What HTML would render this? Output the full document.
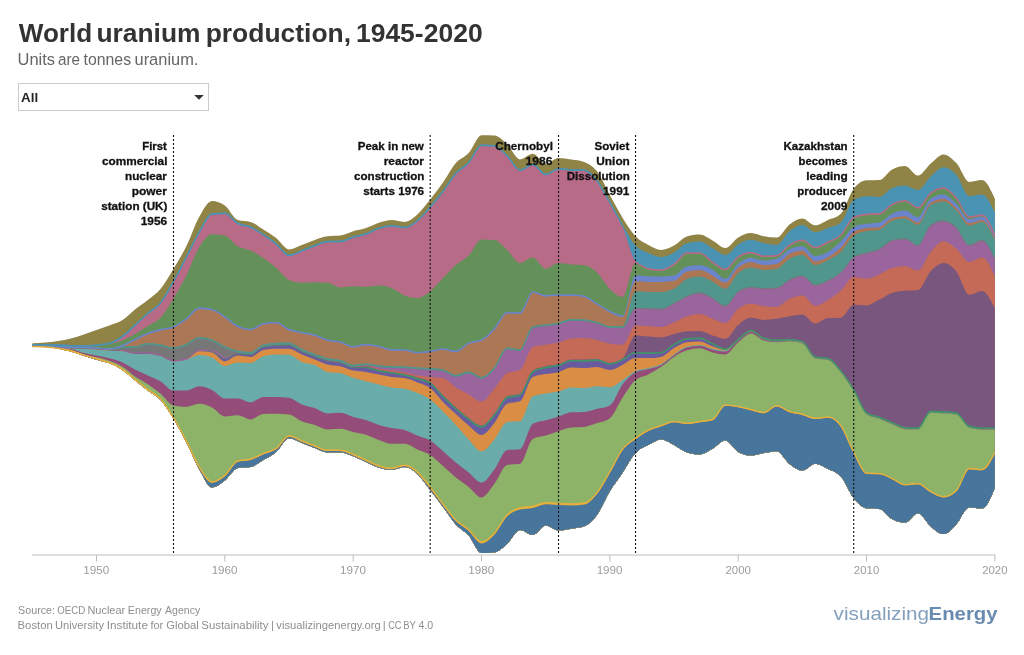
<!DOCTYPE html>
<html><head><meta charset="utf-8"><title>World uranium production, 1945-2020</title>
<style>
html,body{margin:0;padding:0;background:#fff;}
body{width:1024px;height:655px;overflow:hidden;font-family:"Liberation Sans",sans-serif;}
svg{display:block;}
</style></head><body>
<svg width="1024" height="655" viewBox="0 0 1024 655" font-family="'Liberation Sans', sans-serif">
<rect width="1024" height="655" fill="#fff"/>
<clipPath id="sc"><rect x="32.13" y="120" width="962.95" height="440"/></clipPath>
<g clip-path="url(#sc)">
<path d="M32.33,343.20C36.61,343.08,40.89,342.97,45.16,342.60C49.44,342.23,53.72,341.68,58.00,341.00C62.28,340.32,66.55,339.58,70.83,338.50C75.11,337.42,79.39,335.92,83.67,334.50C87.94,333.08,92.22,331.50,96.50,330.00C100.78,328.50,105.06,327.12,109.33,325.50C113.61,323.88,117.89,322.97,122.17,320.30C126.45,317.63,130.72,312.88,135.00,309.50C139.28,306.12,143.56,303.45,147.84,300.00C152.11,296.55,156.39,294.00,160.67,288.80C164.95,283.60,169.23,275.88,173.50,268.80C177.78,261.72,182.06,254.93,186.34,246.30C190.62,237.67,194.89,224.55,199.17,217.00C203.45,209.45,207.73,201.00,212.01,201.00C216.28,201.00,220.56,202.53,224.84,205.60C229.12,208.67,233.40,218.73,237.67,220.00C241.95,221.27,246.23,220.63,250.51,221.90C254.79,223.17,259.06,226.70,263.34,229.40C267.62,232.10,271.90,234.77,276.18,238.10C280.45,241.43,284.73,249.40,289.01,249.40C293.29,249.40,297.57,246.57,301.84,245.00C306.12,243.43,310.40,241.45,314.68,240.00C318.96,238.55,323.23,236.77,327.51,236.30C331.79,235.83,336.07,236.07,340.35,235.60C344.62,235.13,348.90,232.55,353.18,231.30C357.46,230.05,361.74,229.52,366.01,228.10C370.29,226.68,374.57,224.15,378.85,222.80C383.13,221.45,387.40,220.00,391.68,220.00C395.96,220.00,400.24,221.90,404.52,221.90C408.79,221.90,413.07,218.15,417.35,214.40C421.63,210.65,425.91,204.72,430.18,199.40C434.46,194.08,438.74,188.55,443.02,182.50C447.30,176.45,451.57,168.00,455.85,163.10C460.13,158.20,464.41,157.73,468.69,153.10C472.96,148.47,477.24,135.30,481.52,135.30C485.80,135.30,490.08,135.40,494.35,135.60C498.63,135.80,502.91,140.43,507.19,144.40C511.47,148.37,515.74,159.40,520.02,159.40C524.30,159.40,528.58,153.80,532.86,153.80C537.13,153.80,541.41,163.80,545.69,163.80C549.97,163.80,554.25,158.00,558.52,158.00C562.80,158.00,567.08,158.75,571.36,159.40C575.64,160.05,579.91,160.23,584.19,161.90C588.47,163.57,592.75,165.78,597.03,171.30C601.30,176.82,605.58,187.22,609.86,195.00C614.14,202.78,618.42,211.12,622.69,218.00C626.97,224.88,631.25,231.80,635.53,236.30C639.81,240.80,644.08,242.72,648.36,245.00C652.64,247.28,656.92,250.00,661.20,250.00C665.47,250.00,669.75,247.85,674.03,245.60C678.31,243.35,682.59,237.77,686.86,236.50C691.14,235.23,695.42,234.60,699.70,234.60C703.98,234.60,708.25,238.35,712.53,240.60C716.81,242.85,721.09,248.10,725.37,248.10C729.64,248.10,733.92,240.00,738.20,237.50C742.48,235.00,746.76,233.10,751.03,233.10C755.31,233.10,759.59,235.57,763.87,236.30C768.15,237.03,772.42,237.50,776.70,237.50C780.98,237.50,785.26,227.57,789.54,224.40C793.81,221.23,798.09,218.50,802.37,218.50C806.65,218.50,810.93,225.30,815.20,225.30C819.48,225.30,823.76,221.92,828.04,220.00C832.32,218.08,836.59,217.93,840.87,213.80C845.15,209.67,849.43,194.38,853.71,188.80C857.98,183.22,862.26,180.50,866.54,180.30C870.82,180.10,875.10,180.20,879.37,180.00C883.65,179.80,887.93,171.67,892.21,169.40C896.49,167.13,900.76,166.00,905.04,166.00C909.32,166.00,913.60,175.60,917.88,175.60C922.15,175.60,926.43,167.03,930.71,163.50C934.99,159.97,939.27,154.40,943.54,154.40C947.82,154.40,952.10,158.52,956.38,163.10C960.66,167.68,964.93,181.90,969.21,181.90C973.49,181.90,977.77,180.00,982.05,180.00C986.32,180.00,990.60,189.40,994.88,198.80L994.88,488.10C990.60,498.30,986.32,508.50,982.05,508.50C977.77,508.50,973.49,507.40,969.21,507.40C964.93,507.40,960.66,519.75,956.38,524.20C952.10,528.65,947.82,534.10,943.54,534.10C939.27,534.10,934.99,529.87,930.71,526.40C926.43,522.93,922.15,513.30,917.88,513.30C913.60,513.30,909.32,522.70,905.04,522.70C900.76,522.70,896.49,521.50,892.21,519.20C887.93,516.90,883.65,509.30,879.37,508.90C875.10,508.50,870.82,508.70,866.54,508.30C862.26,507.90,857.98,503.30,853.71,498.00C849.43,492.70,845.15,481.35,840.87,476.50C836.59,471.65,832.32,471.03,828.04,468.90C823.76,466.77,819.48,463.70,815.20,463.70C810.93,463.70,806.65,470.60,802.37,470.60C798.09,470.60,793.81,467.22,789.54,464.00C785.26,460.78,780.98,451.30,776.70,451.30C772.42,451.30,768.15,452.38,763.87,453.10C759.59,453.82,755.31,455.60,751.03,455.60C746.76,455.60,742.48,454.37,738.20,451.90C733.92,449.43,729.64,440.60,725.37,440.60C721.09,440.60,716.81,446.50,712.53,448.80C708.25,451.10,703.98,454.40,699.70,454.40C695.42,454.40,691.14,453.77,686.86,452.50C682.59,451.23,678.31,447.18,674.03,445.00C669.75,442.82,665.47,439.40,661.20,439.40C656.92,439.40,652.64,442.72,648.36,445.00C644.08,447.28,639.81,448.52,635.53,453.10C631.25,457.68,626.97,466.13,622.69,472.50C618.42,478.87,614.14,484.22,609.86,491.30C605.58,498.38,601.30,509.17,597.03,515.00C592.75,520.83,588.47,524.63,584.19,526.30C579.91,527.97,575.64,528.08,571.36,528.80C567.08,529.52,562.80,530.60,558.52,530.60C554.25,530.60,549.97,525.60,545.69,525.60C541.41,525.60,537.13,535.00,532.86,535.00C528.58,535.00,524.30,530.00,520.02,530.00C515.74,530.00,511.47,540.05,507.19,543.80C502.91,547.55,498.63,552.10,494.35,552.50C490.08,552.90,485.80,553.10,481.52,553.10C477.24,553.10,472.96,540.38,468.69,535.60C464.41,530.82,460.13,529.18,455.85,524.40C451.57,519.62,447.30,512.63,443.02,506.90C438.74,501.17,434.46,495.48,430.18,490.00C425.91,484.52,421.63,477.83,417.35,474.00C413.07,470.17,408.79,467.00,404.52,467.00C400.24,467.00,395.96,470.10,391.68,470.10C387.40,470.10,383.13,468.95,378.85,467.60C374.57,466.25,370.29,463.88,366.01,462.00C361.74,460.12,357.46,457.88,353.18,456.30C348.90,454.72,344.62,452.50,340.35,452.50C336.07,452.50,331.79,452.50,327.51,452.50C323.23,452.50,318.96,449.58,314.68,448.00C310.40,446.42,306.12,444.62,301.84,443.00C297.57,441.38,293.29,438.30,289.01,438.30C284.73,438.30,280.45,448.28,276.18,451.90C271.90,455.52,267.62,457.50,263.34,460.00C259.06,462.50,254.79,466.10,250.51,466.90C246.23,467.70,241.95,467.30,237.67,468.10C233.40,468.90,229.12,477.37,224.84,480.60C220.56,483.83,216.28,487.50,212.01,487.50C207.73,487.50,203.45,476.55,199.17,469.00C194.89,461.45,190.62,450.57,186.34,442.20C182.06,433.83,177.78,425.83,173.50,418.80C169.23,411.77,164.95,404.70,160.67,400.00C156.39,395.30,152.11,393.88,147.84,390.60C143.56,387.32,139.28,383.77,135.00,380.30C130.72,376.83,126.45,372.63,122.17,369.80C117.89,366.97,113.61,364.98,109.33,363.30C105.06,361.62,100.78,360.95,96.50,359.70C92.22,358.45,87.94,357.15,83.67,355.80C79.39,354.45,75.11,352.82,70.83,351.60C66.55,350.38,62.28,349.27,58.00,348.50C53.72,347.73,49.44,347.33,45.16,347.00C40.89,346.67,36.61,346.58,32.33,346.50Z" fill="#8f8346"/>
<path d="M32.33,344.20C36.61,344.10,40.89,344.00,45.16,344.00C49.44,344.00,53.72,344.07,58.00,344.20C62.28,344.33,66.55,344.87,70.83,345.00C75.11,345.13,79.39,345.20,83.67,345.20C87.94,345.20,92.22,344.83,96.50,344.40C100.78,343.97,105.06,343.80,109.33,342.60C113.61,341.40,117.89,338.93,122.17,335.90C126.45,332.87,130.72,328.25,135.00,324.40C139.28,320.55,143.56,316.55,147.84,312.80C152.11,309.05,156.39,307.25,160.67,301.90C164.95,296.55,169.23,288.30,173.50,280.70C177.78,273.10,182.06,264.52,186.34,256.30C190.62,248.08,194.89,238.58,199.17,231.40C203.45,224.22,207.73,213.67,212.01,213.20C216.28,212.73,220.56,212.50,224.84,212.50C229.12,212.50,233.40,220.20,237.67,222.50C241.95,224.80,246.23,224.42,250.51,226.30C254.79,228.18,259.06,230.98,263.34,233.80C267.62,236.62,271.90,239.73,276.18,243.20C280.45,246.67,284.73,254.60,289.01,254.60C293.29,254.60,297.57,251.60,301.84,250.00C306.12,248.40,310.40,246.55,314.68,245.00C318.96,243.45,323.23,240.70,327.51,240.70C331.79,240.70,336.07,240.70,340.35,240.70C344.62,240.70,348.90,237.55,353.18,236.30C357.46,235.05,361.74,234.67,366.01,233.20C370.29,231.73,374.57,228.87,378.85,227.50C383.13,226.13,387.40,225.00,391.68,225.00C395.96,225.00,400.24,226.70,404.52,226.70C408.79,226.70,413.07,223.40,417.35,220.00C421.63,216.60,425.91,211.18,430.18,206.30C434.46,201.42,438.74,196.33,443.02,190.70C447.30,185.07,451.57,177.30,455.85,172.50C460.13,167.70,464.41,166.58,468.69,161.90C472.96,157.22,477.24,144.40,481.52,144.40C485.80,144.40,490.08,144.60,494.35,145.00C498.63,145.40,502.91,150.93,507.19,155.00C511.47,159.07,515.74,169.40,520.02,169.40C524.30,169.40,528.58,163.80,532.86,163.80C537.13,163.80,541.41,173.80,545.69,173.80C549.97,173.80,554.25,168.00,558.52,168.00C562.80,168.00,567.08,169.07,571.36,169.20C575.64,169.33,579.91,169.27,584.19,169.40C588.47,169.53,592.75,174.62,597.03,180.00C601.30,185.38,605.58,194.20,609.86,201.70C614.14,209.20,618.42,217.68,622.69,225.00C626.97,232.32,631.25,240.92,635.53,245.60C639.81,250.28,644.08,251.22,648.36,253.10C652.64,254.98,656.92,256.90,661.20,256.90C665.47,256.90,669.75,254.78,674.03,252.50C678.31,250.22,682.59,244.33,686.86,243.20C691.14,242.07,695.42,241.50,699.70,241.50C703.98,241.50,708.25,245.85,712.53,248.10C716.81,250.35,721.09,255.00,725.37,255.00C729.64,255.00,733.92,246.93,738.20,244.40C742.48,241.87,746.76,239.80,751.03,239.80C755.31,239.80,759.59,242.23,763.87,243.10C768.15,243.97,772.42,245.00,776.70,245.00C780.98,245.00,785.26,234.63,789.54,231.30C793.81,227.97,798.09,225.00,802.37,225.00C806.65,225.00,810.93,232.20,815.20,232.20C819.48,232.20,823.76,229.72,828.04,228.10C832.32,226.48,836.59,226.23,840.87,222.50C845.15,218.77,849.43,202.47,853.71,200.00C857.98,197.53,862.26,196.30,866.54,196.30C870.82,196.30,875.10,196.90,879.37,196.90C883.65,196.90,887.93,189.77,892.21,188.10C896.49,186.43,900.76,185.60,905.04,185.60C909.32,185.60,913.60,190.00,917.88,190.00C922.15,190.00,926.43,180.28,930.71,176.50C934.99,172.72,939.27,167.30,943.54,167.30C947.82,167.30,952.10,170.22,956.38,175.00C960.66,179.78,964.93,196.00,969.21,196.00C973.49,196.00,977.77,194.40,982.05,194.40C986.32,194.40,990.60,203.45,994.88,212.50L994.88,488.10C990.60,498.30,986.32,508.50,982.05,508.50C977.77,508.50,973.49,507.40,969.21,507.40C964.93,507.40,960.66,519.75,956.38,524.20C952.10,528.65,947.82,534.10,943.54,534.10C939.27,534.10,934.99,529.87,930.71,526.40C926.43,522.93,922.15,513.30,917.88,513.30C913.60,513.30,909.32,522.70,905.04,522.70C900.76,522.70,896.49,521.50,892.21,519.20C887.93,516.90,883.65,509.30,879.37,508.90C875.10,508.50,870.82,508.70,866.54,508.30C862.26,507.90,857.98,503.30,853.71,498.00C849.43,492.70,845.15,481.35,840.87,476.50C836.59,471.65,832.32,471.03,828.04,468.90C823.76,466.77,819.48,463.70,815.20,463.70C810.93,463.70,806.65,470.60,802.37,470.60C798.09,470.60,793.81,467.22,789.54,464.00C785.26,460.78,780.98,451.30,776.70,451.30C772.42,451.30,768.15,452.38,763.87,453.10C759.59,453.82,755.31,455.60,751.03,455.60C746.76,455.60,742.48,454.37,738.20,451.90C733.92,449.43,729.64,440.60,725.37,440.60C721.09,440.60,716.81,446.50,712.53,448.80C708.25,451.10,703.98,454.40,699.70,454.40C695.42,454.40,691.14,453.77,686.86,452.50C682.59,451.23,678.31,447.18,674.03,445.00C669.75,442.82,665.47,439.40,661.20,439.40C656.92,439.40,652.64,442.72,648.36,445.00C644.08,447.28,639.81,448.52,635.53,453.10C631.25,457.68,626.97,466.13,622.69,472.50C618.42,478.87,614.14,484.22,609.86,491.30C605.58,498.38,601.30,509.17,597.03,515.00C592.75,520.83,588.47,524.63,584.19,526.30C579.91,527.97,575.64,528.08,571.36,528.80C567.08,529.52,562.80,530.60,558.52,530.60C554.25,530.60,549.97,525.60,545.69,525.60C541.41,525.60,537.13,535.00,532.86,535.00C528.58,535.00,524.30,530.00,520.02,530.00C515.74,530.00,511.47,540.05,507.19,543.80C502.91,547.55,498.63,552.10,494.35,552.50C490.08,552.90,485.80,553.10,481.52,553.10C477.24,553.10,472.96,540.38,468.69,535.60C464.41,530.82,460.13,529.18,455.85,524.40C451.57,519.62,447.30,512.63,443.02,506.90C438.74,501.17,434.46,495.48,430.18,490.00C425.91,484.52,421.63,477.83,417.35,474.00C413.07,470.17,408.79,467.00,404.52,467.00C400.24,467.00,395.96,470.10,391.68,470.10C387.40,470.10,383.13,468.95,378.85,467.60C374.57,466.25,370.29,463.88,366.01,462.00C361.74,460.12,357.46,457.88,353.18,456.30C348.90,454.72,344.62,452.50,340.35,452.50C336.07,452.50,331.79,452.50,327.51,452.50C323.23,452.50,318.96,449.58,314.68,448.00C310.40,446.42,306.12,444.62,301.84,443.00C297.57,441.38,293.29,438.30,289.01,438.30C284.73,438.30,280.45,448.28,276.18,451.90C271.90,455.52,267.62,457.50,263.34,460.00C259.06,462.50,254.79,466.10,250.51,466.90C246.23,467.70,241.95,467.30,237.67,468.10C233.40,468.90,229.12,477.37,224.84,480.60C220.56,483.83,216.28,487.50,212.01,487.50C207.73,487.50,203.45,476.55,199.17,469.00C194.89,461.45,190.62,450.57,186.34,442.20C182.06,433.83,177.78,425.83,173.50,418.80C169.23,411.77,164.95,404.70,160.67,400.00C156.39,395.30,152.11,393.88,147.84,390.60C143.56,387.32,139.28,383.77,135.00,380.30C130.72,376.83,126.45,372.63,122.17,369.80C117.89,366.97,113.61,364.98,109.33,363.30C105.06,361.62,100.78,360.95,96.50,359.70C92.22,358.45,87.94,357.15,83.67,355.80C79.39,354.45,75.11,352.82,70.83,351.60C66.55,350.38,62.28,349.27,58.00,348.50C53.72,347.73,49.44,347.33,45.16,347.00C40.89,346.67,36.61,346.58,32.33,346.50Z" fill="#4a93b2"/>
<path d="M32.33,345.70C36.61,345.60,40.89,345.50,45.16,345.50C49.44,345.50,53.72,345.57,58.00,345.70C62.28,345.83,66.55,346.37,70.83,346.50C75.11,346.63,79.39,346.70,83.67,346.70C87.94,346.70,92.22,346.33,96.50,345.90C100.78,345.47,105.06,345.30,109.33,344.10C113.61,342.90,117.89,340.43,122.17,337.40C126.45,334.37,130.72,329.75,135.00,325.90C139.28,322.05,143.56,318.05,147.84,314.30C152.11,310.55,156.39,308.75,160.67,303.40C164.95,298.05,169.23,289.80,173.50,282.20C177.78,274.60,182.06,266.02,186.34,257.80C190.62,249.58,194.89,240.08,199.17,232.90C203.45,225.72,207.73,215.17,212.01,214.70C216.28,214.23,220.56,214.00,224.84,214.00C229.12,214.00,233.40,221.70,237.67,224.00C241.95,226.30,246.23,225.92,250.51,227.80C254.79,229.68,259.06,232.48,263.34,235.30C267.62,238.12,271.90,241.23,276.18,244.70C280.45,248.17,284.73,256.10,289.01,256.10C293.29,256.10,297.57,253.10,301.84,251.50C306.12,249.90,310.40,248.05,314.68,246.50C318.96,244.95,323.23,242.20,327.51,242.20C331.79,242.20,336.07,242.20,340.35,242.20C344.62,242.20,348.90,239.05,353.18,237.80C357.46,236.55,361.74,236.17,366.01,234.70C370.29,233.23,374.57,230.37,378.85,229.00C383.13,227.63,387.40,226.50,391.68,226.50C395.96,226.50,400.24,228.20,404.52,228.20C408.79,228.20,413.07,224.90,417.35,221.50C421.63,218.10,425.91,212.68,430.18,207.80C434.46,202.92,438.74,197.83,443.02,192.20C447.30,186.57,451.57,178.80,455.85,174.00C460.13,169.20,464.41,168.08,468.69,163.40C472.96,158.72,477.24,145.90,481.52,145.90C485.80,145.90,490.08,146.10,494.35,146.50C498.63,146.90,502.91,152.43,507.19,156.50C511.47,160.57,515.74,170.90,520.02,170.90C524.30,170.90,528.58,165.30,532.86,165.30C537.13,165.30,541.41,175.30,545.69,175.30C549.97,175.30,554.25,169.50,558.52,169.50C562.80,169.50,567.08,170.57,571.36,170.70C575.64,170.83,579.91,170.77,584.19,170.90C588.47,171.03,592.75,176.12,597.03,181.50C601.30,186.88,605.58,195.63,609.86,203.20C614.14,210.77,618.42,217.22,622.69,226.90C626.97,236.58,631.25,256.77,635.53,261.30C639.81,265.83,644.08,267.23,648.36,268.10C652.64,268.97,656.92,269.40,661.20,269.40C665.47,269.40,669.75,266.63,674.03,263.80C678.31,260.97,682.59,252.40,686.86,252.40C691.14,252.40,695.42,252.40,699.70,252.40C703.98,252.40,708.25,258.77,712.53,261.50C716.81,264.23,721.09,268.80,725.37,268.80C729.64,268.80,733.92,259.12,738.20,256.30C742.48,253.48,746.76,251.90,751.03,251.90C755.31,251.90,759.59,255.60,763.87,255.60C768.15,255.60,772.42,255.40,776.70,255.00C780.98,254.60,785.26,246.97,789.54,244.40C793.81,241.83,798.09,239.60,802.37,239.60C806.65,239.60,810.93,246.90,815.20,246.90C819.48,246.90,823.76,243.58,828.04,241.50C832.32,239.42,836.59,238.50,840.87,234.40C845.15,230.30,849.43,218.97,853.71,216.90C857.98,214.83,862.26,214.27,866.54,213.80C870.82,213.33,875.10,213.57,879.37,213.10C883.65,212.63,887.93,205.95,892.21,203.80C896.49,201.65,900.76,200.20,905.04,200.20C909.32,200.20,913.60,207.10,917.88,207.10C922.15,207.10,926.43,195.77,930.71,192.50C934.99,189.23,939.27,187.50,943.54,187.50C947.82,187.50,952.10,192.70,956.38,197.50C960.66,202.30,964.93,216.30,969.21,216.30C973.49,216.30,977.77,214.50,982.05,214.50C986.32,214.50,990.60,224.75,994.88,235.00L994.88,488.10C990.60,498.30,986.32,508.50,982.05,508.50C977.77,508.50,973.49,507.40,969.21,507.40C964.93,507.40,960.66,519.75,956.38,524.20C952.10,528.65,947.82,534.10,943.54,534.10C939.27,534.10,934.99,529.87,930.71,526.40C926.43,522.93,922.15,513.30,917.88,513.30C913.60,513.30,909.32,522.70,905.04,522.70C900.76,522.70,896.49,521.50,892.21,519.20C887.93,516.90,883.65,509.30,879.37,508.90C875.10,508.50,870.82,508.70,866.54,508.30C862.26,507.90,857.98,503.30,853.71,498.00C849.43,492.70,845.15,481.35,840.87,476.50C836.59,471.65,832.32,471.03,828.04,468.90C823.76,466.77,819.48,463.70,815.20,463.70C810.93,463.70,806.65,470.60,802.37,470.60C798.09,470.60,793.81,467.22,789.54,464.00C785.26,460.78,780.98,451.30,776.70,451.30C772.42,451.30,768.15,452.38,763.87,453.10C759.59,453.82,755.31,455.60,751.03,455.60C746.76,455.60,742.48,454.37,738.20,451.90C733.92,449.43,729.64,440.60,725.37,440.60C721.09,440.60,716.81,446.50,712.53,448.80C708.25,451.10,703.98,454.40,699.70,454.40C695.42,454.40,691.14,453.77,686.86,452.50C682.59,451.23,678.31,447.18,674.03,445.00C669.75,442.82,665.47,439.40,661.20,439.40C656.92,439.40,652.64,442.72,648.36,445.00C644.08,447.28,639.81,448.52,635.53,453.10C631.25,457.68,626.97,466.13,622.69,472.50C618.42,478.87,614.14,484.22,609.86,491.30C605.58,498.38,601.30,509.17,597.03,515.00C592.75,520.83,588.47,524.63,584.19,526.30C579.91,527.97,575.64,528.08,571.36,528.80C567.08,529.52,562.80,530.60,558.52,530.60C554.25,530.60,549.97,525.60,545.69,525.60C541.41,525.60,537.13,535.00,532.86,535.00C528.58,535.00,524.30,530.00,520.02,530.00C515.74,530.00,511.47,540.05,507.19,543.80C502.91,547.55,498.63,552.10,494.35,552.50C490.08,552.90,485.80,553.10,481.52,553.10C477.24,553.10,472.96,540.38,468.69,535.60C464.41,530.82,460.13,529.18,455.85,524.40C451.57,519.62,447.30,512.63,443.02,506.90C438.74,501.17,434.46,495.48,430.18,490.00C425.91,484.52,421.63,477.83,417.35,474.00C413.07,470.17,408.79,467.00,404.52,467.00C400.24,467.00,395.96,470.10,391.68,470.10C387.40,470.10,383.13,468.95,378.85,467.60C374.57,466.25,370.29,463.88,366.01,462.00C361.74,460.12,357.46,457.88,353.18,456.30C348.90,454.72,344.62,452.50,340.35,452.50C336.07,452.50,331.79,452.50,327.51,452.50C323.23,452.50,318.96,449.58,314.68,448.00C310.40,446.42,306.12,444.62,301.84,443.00C297.57,441.38,293.29,438.30,289.01,438.30C284.73,438.30,280.45,448.28,276.18,451.90C271.90,455.52,267.62,457.50,263.34,460.00C259.06,462.50,254.79,466.10,250.51,466.90C246.23,467.70,241.95,467.30,237.67,468.10C233.40,468.90,229.12,477.37,224.84,480.60C220.56,483.83,216.28,487.50,212.01,487.50C207.73,487.50,203.45,476.55,199.17,469.00C194.89,461.45,190.62,450.57,186.34,442.20C182.06,433.83,177.78,425.83,173.50,418.80C169.23,411.77,164.95,404.70,160.67,400.00C156.39,395.30,152.11,393.88,147.84,390.60C143.56,387.32,139.28,383.77,135.00,380.30C130.72,376.83,126.45,372.63,122.17,369.80C117.89,366.97,113.61,364.98,109.33,363.30C105.06,361.62,100.78,360.95,96.50,359.70C92.22,358.45,87.94,357.15,83.67,355.80C79.39,354.45,75.11,352.82,70.83,351.60C66.55,350.38,62.28,349.27,58.00,348.50C53.72,347.73,49.44,347.33,45.16,347.00C40.89,346.67,36.61,346.58,32.33,346.50Z" fill="#b76b87"/>
<path d="M32.33,345.80C36.61,345.70,40.89,345.60,45.16,345.60C49.44,345.60,53.72,345.67,58.00,345.80C62.28,345.93,66.55,346.50,70.83,346.60C75.11,346.70,79.39,346.75,83.67,346.75C87.94,346.75,92.22,346.38,96.50,345.95C100.78,345.52,105.06,345.09,109.33,344.20C113.61,343.31,117.89,342.30,122.17,340.60C126.45,338.90,130.72,336.43,135.00,334.00C139.28,331.57,143.56,328.75,147.84,326.00C152.11,323.25,156.39,322.08,160.67,317.50C164.95,312.92,169.23,305.48,173.50,298.50C177.78,291.52,182.06,284.15,186.34,275.60C190.62,267.05,194.89,254.10,199.17,247.20C203.45,240.30,207.73,234.20,212.01,234.20C216.28,234.20,220.56,234.60,224.84,235.40C229.12,236.20,233.40,243.77,237.67,246.30C241.95,248.83,246.23,248.63,250.51,250.60C254.79,252.57,259.06,255.23,263.34,258.10C267.62,260.97,271.90,264.15,276.18,267.80C280.45,271.45,284.73,278.13,289.01,280.00C293.29,281.87,297.57,282.80,301.84,282.80C306.12,282.80,310.40,282.30,314.68,282.30C318.96,282.30,323.23,282.47,327.51,282.80C331.79,283.13,336.07,287.50,340.35,287.50C344.62,287.50,348.90,286.30,353.18,286.30C357.46,286.30,361.74,286.90,366.01,286.90C370.29,286.90,374.57,285.60,378.85,285.60C383.13,285.60,387.40,286.43,391.68,288.10C395.96,289.77,400.24,293.93,404.52,295.60C408.79,297.27,413.07,298.10,417.35,298.10C421.63,298.10,425.91,294.63,430.18,291.30C434.46,287.97,438.74,282.48,443.02,278.10C447.30,273.72,451.57,268.75,455.85,265.00C460.13,261.25,464.41,259.85,468.69,255.60C472.96,251.35,477.24,239.50,481.52,239.50C485.80,239.50,490.08,239.67,494.35,240.00C498.63,240.33,502.91,246.15,507.19,250.00C511.47,253.85,515.74,263.10,520.02,263.10C524.30,263.10,528.58,257.50,532.86,257.50C537.13,257.50,541.41,268.80,545.69,268.80C549.97,268.80,554.25,263.10,558.52,263.10C562.80,263.10,567.08,264.03,571.36,264.40C575.64,264.77,579.91,264.70,584.19,265.30C588.47,265.90,592.75,268.55,597.03,272.50C601.30,276.45,605.58,284.93,609.86,289.00C614.14,293.07,618.42,296.90,622.69,296.90C626.97,296.90,631.25,262.70,635.53,262.70C639.81,262.70,644.08,268.63,648.36,269.50C652.64,270.37,656.92,270.80,661.20,270.80C665.47,270.80,669.75,268.03,674.03,265.20C678.31,262.37,682.59,253.80,686.86,253.80C691.14,253.80,695.42,253.80,699.70,253.80C703.98,253.80,708.25,260.17,712.53,262.90C716.81,265.63,721.09,270.20,725.37,270.20C729.64,270.20,733.92,260.52,738.20,257.70C742.48,254.88,746.76,253.30,751.03,253.30C755.31,253.30,759.59,257.00,763.87,257.00C768.15,257.00,772.42,256.80,776.70,256.40C780.98,256.00,785.26,248.37,789.54,245.80C793.81,243.23,798.09,241.00,802.37,241.00C806.65,241.00,810.93,248.30,815.20,248.30C819.48,248.30,823.76,244.98,828.04,242.90C832.32,240.82,836.59,239.90,840.87,235.80C845.15,231.70,849.43,220.37,853.71,218.30C857.98,216.23,862.26,215.67,866.54,215.20C870.82,214.73,875.10,214.97,879.37,214.50C883.65,214.03,887.93,207.35,892.21,205.20C896.49,203.05,900.76,201.60,905.04,201.60C909.32,201.60,913.60,208.50,917.88,208.50C922.15,208.50,926.43,197.17,930.71,193.90C934.99,190.63,939.27,188.90,943.54,188.90C947.82,188.90,952.10,194.10,956.38,198.90C960.66,203.70,964.93,217.70,969.21,217.70C973.49,217.70,977.77,215.90,982.05,215.90C986.32,215.90,990.60,226.15,994.88,236.40L994.88,488.10C990.60,498.30,986.32,508.50,982.05,508.50C977.77,508.50,973.49,507.40,969.21,507.40C964.93,507.40,960.66,519.75,956.38,524.20C952.10,528.65,947.82,534.10,943.54,534.10C939.27,534.10,934.99,529.87,930.71,526.40C926.43,522.93,922.15,513.30,917.88,513.30C913.60,513.30,909.32,522.70,905.04,522.70C900.76,522.70,896.49,521.50,892.21,519.20C887.93,516.90,883.65,509.30,879.37,508.90C875.10,508.50,870.82,508.70,866.54,508.30C862.26,507.90,857.98,503.30,853.71,498.00C849.43,492.70,845.15,481.35,840.87,476.50C836.59,471.65,832.32,471.03,828.04,468.90C823.76,466.77,819.48,463.70,815.20,463.70C810.93,463.70,806.65,470.60,802.37,470.60C798.09,470.60,793.81,467.22,789.54,464.00C785.26,460.78,780.98,451.30,776.70,451.30C772.42,451.30,768.15,452.38,763.87,453.10C759.59,453.82,755.31,455.60,751.03,455.60C746.76,455.60,742.48,454.37,738.20,451.90C733.92,449.43,729.64,440.60,725.37,440.60C721.09,440.60,716.81,446.50,712.53,448.80C708.25,451.10,703.98,454.40,699.70,454.40C695.42,454.40,691.14,453.77,686.86,452.50C682.59,451.23,678.31,447.18,674.03,445.00C669.75,442.82,665.47,439.40,661.20,439.40C656.92,439.40,652.64,442.72,648.36,445.00C644.08,447.28,639.81,448.52,635.53,453.10C631.25,457.68,626.97,466.13,622.69,472.50C618.42,478.87,614.14,484.22,609.86,491.30C605.58,498.38,601.30,509.17,597.03,515.00C592.75,520.83,588.47,524.63,584.19,526.30C579.91,527.97,575.64,528.08,571.36,528.80C567.08,529.52,562.80,530.60,558.52,530.60C554.25,530.60,549.97,525.60,545.69,525.60C541.41,525.60,537.13,535.00,532.86,535.00C528.58,535.00,524.30,530.00,520.02,530.00C515.74,530.00,511.47,540.05,507.19,543.80C502.91,547.55,498.63,552.10,494.35,552.50C490.08,552.90,485.80,553.10,481.52,553.10C477.24,553.10,472.96,540.38,468.69,535.60C464.41,530.82,460.13,529.18,455.85,524.40C451.57,519.62,447.30,512.63,443.02,506.90C438.74,501.17,434.46,495.48,430.18,490.00C425.91,484.52,421.63,477.83,417.35,474.00C413.07,470.17,408.79,467.00,404.52,467.00C400.24,467.00,395.96,470.10,391.68,470.10C387.40,470.10,383.13,468.95,378.85,467.60C374.57,466.25,370.29,463.88,366.01,462.00C361.74,460.12,357.46,457.88,353.18,456.30C348.90,454.72,344.62,452.50,340.35,452.50C336.07,452.50,331.79,452.50,327.51,452.50C323.23,452.50,318.96,449.58,314.68,448.00C310.40,446.42,306.12,444.62,301.84,443.00C297.57,441.38,293.29,438.30,289.01,438.30C284.73,438.30,280.45,448.28,276.18,451.90C271.90,455.52,267.62,457.50,263.34,460.00C259.06,462.50,254.79,466.10,250.51,466.90C246.23,467.70,241.95,467.30,237.67,468.10C233.40,468.90,229.12,477.37,224.84,480.60C220.56,483.83,216.28,487.50,212.01,487.50C207.73,487.50,203.45,476.55,199.17,469.00C194.89,461.45,190.62,450.57,186.34,442.20C182.06,433.83,177.78,425.83,173.50,418.80C169.23,411.77,164.95,404.70,160.67,400.00C156.39,395.30,152.11,393.88,147.84,390.60C143.56,387.32,139.28,383.77,135.00,380.30C130.72,376.83,126.45,372.63,122.17,369.80C117.89,366.97,113.61,364.98,109.33,363.30C105.06,361.62,100.78,360.95,96.50,359.70C92.22,358.45,87.94,357.15,83.67,355.80C79.39,354.45,75.11,352.82,70.83,351.60C66.55,350.38,62.28,349.27,58.00,348.50C53.72,347.73,49.44,347.33,45.16,347.00C40.89,346.67,36.61,346.58,32.33,346.50Z" fill="#639159"/>
<path d="M32.33,346.10C36.61,346.00,40.89,345.90,45.16,345.90C49.44,345.90,53.72,345.98,58.00,346.10C62.28,346.23,66.55,346.52,70.83,346.65C75.11,346.78,79.39,346.76,83.67,346.90C87.94,347.04,92.22,347.25,96.50,347.50C100.78,347.75,105.06,348.40,109.33,348.40C113.61,348.40,117.89,346.68,122.17,345.10C126.45,343.52,130.72,340.93,135.00,338.90C139.28,336.87,143.56,334.53,147.84,332.90C152.11,331.27,156.39,330.18,160.67,329.10C164.95,328.02,169.23,328.20,173.50,326.40C177.78,324.60,182.06,321.43,186.34,318.30C190.62,315.17,194.89,307.60,199.17,307.60C203.45,307.60,207.73,308.03,212.01,308.90C216.28,309.77,220.56,313.58,224.84,316.40C229.12,319.22,233.40,323.73,237.67,325.80C241.95,327.87,246.23,328.90,250.51,328.90C254.79,328.90,259.06,324.17,263.34,323.30C267.62,322.43,271.90,322.00,276.18,322.00C280.45,322.00,284.73,327.23,289.01,328.90C293.29,330.57,297.57,331.07,301.84,332.00C306.12,332.93,310.40,333.25,314.68,334.50C318.96,335.75,323.23,338.35,327.51,339.50C331.79,340.65,336.07,340.30,340.35,341.40C344.62,342.50,348.90,346.10,353.18,346.10C357.46,346.10,361.74,343.90,366.01,343.90C370.29,343.90,374.57,344.90,378.85,345.80C383.13,346.70,387.40,349.17,391.68,349.30C395.96,349.43,400.24,349.37,404.52,349.50C408.79,349.63,413.07,352.00,417.35,352.00C421.63,352.00,425.91,351.38,430.18,350.80C434.46,350.22,438.74,348.50,443.02,348.50C447.30,348.50,451.57,350.80,455.85,350.80C460.13,350.80,464.41,344.48,468.69,342.60C472.96,340.72,477.24,341.57,481.52,339.50C485.80,337.43,490.08,332.88,494.35,328.30C498.63,323.72,502.91,312.00,507.19,312.00C511.47,312.00,515.74,312.60,520.02,312.60C524.30,312.60,528.58,291.40,532.86,291.40C537.13,291.40,541.41,295.10,545.69,295.10C549.97,295.10,554.25,294.50,558.52,294.50C562.80,294.50,567.08,294.50,571.36,294.50C575.64,294.50,579.91,294.93,584.19,295.80C588.47,296.67,592.75,300.77,597.03,303.30C601.30,305.83,605.58,308.92,609.86,311.00C614.14,313.08,618.42,315.80,622.69,315.80C626.97,315.80,631.25,275.30,635.53,275.30C639.81,275.30,644.08,276.10,648.36,276.30C652.64,276.50,656.92,276.60,661.20,276.60C665.47,276.60,669.75,276.27,674.03,275.60C678.31,274.93,682.59,267.30,686.86,266.50C691.14,265.70,695.42,265.30,699.70,265.30C703.98,265.30,708.25,267.45,712.53,269.70C716.81,271.95,721.09,278.80,725.37,278.80C729.64,278.80,733.92,267.30,738.20,263.80C742.48,260.30,746.76,257.80,751.03,257.80C755.31,257.80,759.59,260.60,763.87,260.60C768.15,260.60,772.42,260.00,776.70,258.80C780.98,257.60,785.26,251.47,789.54,249.40C793.81,247.33,798.09,246.30,802.37,246.30C806.65,246.30,810.93,256.00,815.20,256.00C819.48,256.00,823.76,254.32,828.04,251.90C832.32,249.48,836.59,245.67,840.87,241.50C845.15,237.33,849.43,228.97,853.71,226.90C857.98,224.83,862.26,224.53,866.54,223.80C870.82,223.07,875.10,223.37,879.37,222.50C883.65,221.63,887.93,215.78,892.21,213.80C896.49,211.82,900.76,210.60,905.04,210.60C909.32,210.60,913.60,217.20,917.88,217.20C922.15,217.20,926.43,201.73,930.71,198.80C934.99,195.87,939.27,194.40,943.54,194.40C947.82,194.40,952.10,199.65,956.38,203.80C960.66,207.95,964.93,219.30,969.21,219.30C973.49,219.30,977.77,216.80,982.05,216.80C986.32,216.80,990.60,226.62,994.88,236.45L994.88,488.10C990.60,498.30,986.32,508.50,982.05,508.50C977.77,508.50,973.49,507.40,969.21,507.40C964.93,507.40,960.66,519.75,956.38,524.20C952.10,528.65,947.82,534.10,943.54,534.10C939.27,534.10,934.99,529.87,930.71,526.40C926.43,522.93,922.15,513.30,917.88,513.30C913.60,513.30,909.32,522.70,905.04,522.70C900.76,522.70,896.49,521.50,892.21,519.20C887.93,516.90,883.65,509.30,879.37,508.90C875.10,508.50,870.82,508.70,866.54,508.30C862.26,507.90,857.98,503.30,853.71,498.00C849.43,492.70,845.15,481.35,840.87,476.50C836.59,471.65,832.32,471.03,828.04,468.90C823.76,466.77,819.48,463.70,815.20,463.70C810.93,463.70,806.65,470.60,802.37,470.60C798.09,470.60,793.81,467.22,789.54,464.00C785.26,460.78,780.98,451.30,776.70,451.30C772.42,451.30,768.15,452.38,763.87,453.10C759.59,453.82,755.31,455.60,751.03,455.60C746.76,455.60,742.48,454.37,738.20,451.90C733.92,449.43,729.64,440.60,725.37,440.60C721.09,440.60,716.81,446.50,712.53,448.80C708.25,451.10,703.98,454.40,699.70,454.40C695.42,454.40,691.14,453.77,686.86,452.50C682.59,451.23,678.31,447.18,674.03,445.00C669.75,442.82,665.47,439.40,661.20,439.40C656.92,439.40,652.64,442.72,648.36,445.00C644.08,447.28,639.81,448.52,635.53,453.10C631.25,457.68,626.97,466.13,622.69,472.50C618.42,478.87,614.14,484.22,609.86,491.30C605.58,498.38,601.30,509.17,597.03,515.00C592.75,520.83,588.47,524.63,584.19,526.30C579.91,527.97,575.64,528.08,571.36,528.80C567.08,529.52,562.80,530.60,558.52,530.60C554.25,530.60,549.97,525.60,545.69,525.60C541.41,525.60,537.13,535.00,532.86,535.00C528.58,535.00,524.30,530.00,520.02,530.00C515.74,530.00,511.47,540.05,507.19,543.80C502.91,547.55,498.63,552.10,494.35,552.50C490.08,552.90,485.80,553.10,481.52,553.10C477.24,553.10,472.96,540.38,468.69,535.60C464.41,530.82,460.13,529.18,455.85,524.40C451.57,519.62,447.30,512.63,443.02,506.90C438.74,501.17,434.46,495.48,430.18,490.00C425.91,484.52,421.63,477.83,417.35,474.00C413.07,470.17,408.79,467.00,404.52,467.00C400.24,467.00,395.96,470.10,391.68,470.10C387.40,470.10,383.13,468.95,378.85,467.60C374.57,466.25,370.29,463.88,366.01,462.00C361.74,460.12,357.46,457.88,353.18,456.30C348.90,454.72,344.62,452.50,340.35,452.50C336.07,452.50,331.79,452.50,327.51,452.50C323.23,452.50,318.96,449.58,314.68,448.00C310.40,446.42,306.12,444.62,301.84,443.00C297.57,441.38,293.29,438.30,289.01,438.30C284.73,438.30,280.45,448.28,276.18,451.90C271.90,455.52,267.62,457.50,263.34,460.00C259.06,462.50,254.79,466.10,250.51,466.90C246.23,467.70,241.95,467.30,237.67,468.10C233.40,468.90,229.12,477.37,224.84,480.60C220.56,483.83,216.28,487.50,212.01,487.50C207.73,487.50,203.45,476.55,199.17,469.00C194.89,461.45,190.62,450.57,186.34,442.20C182.06,433.83,177.78,425.83,173.50,418.80C169.23,411.77,164.95,404.70,160.67,400.00C156.39,395.30,152.11,393.88,147.84,390.60C143.56,387.32,139.28,383.77,135.00,380.30C130.72,376.83,126.45,372.63,122.17,369.80C117.89,366.97,113.61,364.98,109.33,363.30C105.06,361.62,100.78,360.95,96.50,359.70C92.22,358.45,87.94,357.15,83.67,355.80C79.39,354.45,75.11,352.82,70.83,351.60C66.55,350.38,62.28,349.27,58.00,348.50C53.72,347.73,49.44,347.33,45.16,347.00C40.89,346.67,36.61,346.58,32.33,346.50Z" fill="#6b85cd"/>
<path d="M32.33,346.50C36.61,346.68,40.89,346.85,45.16,347.00C49.44,347.15,53.72,347.24,58.00,347.40C62.28,347.56,66.55,347.82,70.83,347.95C75.11,348.08,79.39,348.06,83.67,348.20C87.94,348.34,92.22,348.55,96.50,348.80C100.78,349.05,105.06,349.70,109.33,349.70C113.61,349.70,117.89,347.98,122.17,346.40C126.45,344.82,130.72,342.23,135.00,340.20C139.28,338.17,143.56,335.83,147.84,334.20C152.11,332.57,156.39,331.48,160.67,330.40C164.95,329.32,169.23,329.50,173.50,327.70C177.78,325.90,182.06,322.73,186.34,319.60C190.62,316.47,194.89,308.90,199.17,308.90C203.45,308.90,207.73,309.33,212.01,310.20C216.28,311.07,220.56,314.88,224.84,317.70C229.12,320.52,233.40,325.03,237.67,327.10C241.95,329.17,246.23,330.20,250.51,330.20C254.79,330.20,259.06,325.47,263.34,324.60C267.62,323.73,271.90,323.30,276.18,323.30C280.45,323.30,284.73,328.53,289.01,330.20C293.29,331.87,297.57,332.37,301.84,333.30C306.12,334.23,310.40,334.55,314.68,335.80C318.96,337.05,323.23,339.65,327.51,340.80C331.79,341.95,336.07,341.60,340.35,342.70C344.62,343.80,348.90,347.40,353.18,347.40C357.46,347.40,361.74,345.20,366.01,345.20C370.29,345.20,374.57,346.20,378.85,347.10C383.13,348.00,387.40,350.47,391.68,350.60C395.96,350.73,400.24,350.67,404.52,350.80C408.79,350.93,413.07,353.30,417.35,353.30C421.63,353.30,425.91,352.68,430.18,352.10C434.46,351.52,438.74,349.80,443.02,349.80C447.30,349.80,451.57,352.10,455.85,352.10C460.13,352.10,464.41,345.78,468.69,343.90C472.96,342.02,477.24,342.87,481.52,340.80C485.80,338.73,490.08,334.18,494.35,329.60C498.63,325.02,502.91,313.30,507.19,313.30C511.47,313.30,515.74,313.90,520.02,313.90C524.30,313.90,528.58,292.70,532.86,292.70C537.13,292.70,541.41,296.40,545.69,296.40C549.97,296.40,554.25,295.80,558.52,295.80C562.80,295.80,567.08,295.80,571.36,295.80C575.64,295.80,579.91,296.23,584.19,297.10C588.47,297.97,592.75,302.07,597.03,304.60C601.30,307.13,605.58,310.22,609.86,312.30C614.14,314.38,618.42,317.10,622.69,317.10C626.97,317.10,631.25,281.30,635.53,281.30C639.81,281.30,644.08,281.90,648.36,281.90C652.64,281.90,656.92,281.90,661.20,281.90C665.47,281.90,669.75,281.53,674.03,280.80C678.31,280.07,682.59,272.50,686.86,271.50C691.14,270.50,695.42,270.00,699.70,270.00C703.98,270.00,708.25,273.32,712.53,275.40C716.81,277.48,721.09,282.50,725.37,282.50C729.64,282.50,733.92,270.93,738.20,267.50C742.48,264.07,746.76,261.90,751.03,261.90C755.31,261.90,759.59,265.00,763.87,265.00C768.15,265.00,772.42,264.60,776.70,263.80C780.98,263.00,785.26,255.93,789.54,253.80C793.81,251.67,798.09,250.60,802.37,250.60C806.65,250.60,810.93,261.30,815.20,261.30C819.48,261.30,823.76,259.20,828.04,256.90C832.32,254.60,836.59,251.67,840.87,247.50C845.15,243.33,849.43,234.43,853.71,231.90C857.98,229.37,862.26,228.63,866.54,228.10C870.82,227.57,875.10,227.83,879.37,227.30C883.65,226.77,887.93,219.30,892.21,218.10C896.49,216.90,900.76,216.30,905.04,216.30C909.32,216.30,913.60,222.50,917.88,222.50C922.15,222.50,926.43,205.47,930.71,202.80C934.99,200.13,939.27,198.80,943.54,198.80C947.82,198.80,952.10,204.05,956.38,208.10C960.66,212.15,964.93,223.10,969.21,223.10C973.49,223.10,977.77,220.00,982.05,220.00C986.32,220.00,990.60,229.25,994.88,238.50L994.88,488.10C990.60,498.30,986.32,508.50,982.05,508.50C977.77,508.50,973.49,507.40,969.21,507.40C964.93,507.40,960.66,519.75,956.38,524.20C952.10,528.65,947.82,534.10,943.54,534.10C939.27,534.10,934.99,529.87,930.71,526.40C926.43,522.93,922.15,513.30,917.88,513.30C913.60,513.30,909.32,522.70,905.04,522.70C900.76,522.70,896.49,521.50,892.21,519.20C887.93,516.90,883.65,509.30,879.37,508.90C875.10,508.50,870.82,508.70,866.54,508.30C862.26,507.90,857.98,503.30,853.71,498.00C849.43,492.70,845.15,481.35,840.87,476.50C836.59,471.65,832.32,471.03,828.04,468.90C823.76,466.77,819.48,463.70,815.20,463.70C810.93,463.70,806.65,470.60,802.37,470.60C798.09,470.60,793.81,467.22,789.54,464.00C785.26,460.78,780.98,451.30,776.70,451.30C772.42,451.30,768.15,452.38,763.87,453.10C759.59,453.82,755.31,455.60,751.03,455.60C746.76,455.60,742.48,454.37,738.20,451.90C733.92,449.43,729.64,440.60,725.37,440.60C721.09,440.60,716.81,446.50,712.53,448.80C708.25,451.10,703.98,454.40,699.70,454.40C695.42,454.40,691.14,453.77,686.86,452.50C682.59,451.23,678.31,447.18,674.03,445.00C669.75,442.82,665.47,439.40,661.20,439.40C656.92,439.40,652.64,442.72,648.36,445.00C644.08,447.28,639.81,448.52,635.53,453.10C631.25,457.68,626.97,466.13,622.69,472.50C618.42,478.87,614.14,484.22,609.86,491.30C605.58,498.38,601.30,509.17,597.03,515.00C592.75,520.83,588.47,524.63,584.19,526.30C579.91,527.97,575.64,528.08,571.36,528.80C567.08,529.52,562.80,530.60,558.52,530.60C554.25,530.60,549.97,525.60,545.69,525.60C541.41,525.60,537.13,535.00,532.86,535.00C528.58,535.00,524.30,530.00,520.02,530.00C515.74,530.00,511.47,540.05,507.19,543.80C502.91,547.55,498.63,552.10,494.35,552.50C490.08,552.90,485.80,553.10,481.52,553.10C477.24,553.10,472.96,540.38,468.69,535.60C464.41,530.82,460.13,529.18,455.85,524.40C451.57,519.62,447.30,512.63,443.02,506.90C438.74,501.17,434.46,495.48,430.18,490.00C425.91,484.52,421.63,477.83,417.35,474.00C413.07,470.17,408.79,467.00,404.52,467.00C400.24,467.00,395.96,470.10,391.68,470.10C387.40,470.10,383.13,468.95,378.85,467.60C374.57,466.25,370.29,463.88,366.01,462.00C361.74,460.12,357.46,457.88,353.18,456.30C348.90,454.72,344.62,452.50,340.35,452.50C336.07,452.50,331.79,452.50,327.51,452.50C323.23,452.50,318.96,449.58,314.68,448.00C310.40,446.42,306.12,444.62,301.84,443.00C297.57,441.38,293.29,438.30,289.01,438.30C284.73,438.30,280.45,448.28,276.18,451.90C271.90,455.52,267.62,457.50,263.34,460.00C259.06,462.50,254.79,466.10,250.51,466.90C246.23,467.70,241.95,467.30,237.67,468.10C233.40,468.90,229.12,477.37,224.84,480.60C220.56,483.83,216.28,487.50,212.01,487.50C207.73,487.50,203.45,476.55,199.17,469.00C194.89,461.45,190.62,450.57,186.34,442.20C182.06,433.83,177.78,425.83,173.50,418.80C169.23,411.77,164.95,404.70,160.67,400.00C156.39,395.30,152.11,393.88,147.84,390.60C143.56,387.32,139.28,383.77,135.00,380.30C130.72,376.83,126.45,372.63,122.17,369.80C117.89,366.97,113.61,364.98,109.33,363.30C105.06,361.62,100.78,360.95,96.50,359.70C92.22,358.45,87.94,357.15,83.67,355.80C79.39,354.45,75.11,352.82,70.83,351.60C66.55,350.38,62.28,349.27,58.00,348.50C53.72,347.73,49.44,347.33,45.16,347.00C40.89,346.67,36.61,346.58,32.33,346.50Z" fill="#ab7755"/>
<path d="M32.33,346.50C36.61,346.67,40.89,346.83,45.16,347.00C49.44,347.17,53.72,347.33,58.00,347.50C62.28,347.68,66.55,347.92,70.83,348.05C75.11,348.18,79.39,348.16,83.67,348.30C87.94,348.44,92.22,348.65,96.50,348.90C100.78,349.15,105.06,349.80,109.33,349.80C113.61,349.80,117.89,346.55,122.17,346.45C126.45,346.35,130.72,346.40,135.00,346.30C139.28,346.20,143.56,343.00,147.84,343.00C152.11,343.00,156.39,343.75,160.67,344.50C164.95,345.25,169.23,347.50,173.50,347.50C177.78,347.50,182.06,345.57,186.34,343.80C190.62,342.03,194.89,336.90,199.17,336.90C203.45,336.90,207.73,337.83,212.01,339.40C216.28,340.97,220.56,344.43,224.84,346.30C229.12,348.17,233.40,349.73,237.67,350.60C241.95,351.47,246.23,351.90,250.51,351.90C254.79,351.90,259.06,345.47,263.34,344.40C267.62,343.33,271.90,343.00,276.18,342.80C280.45,342.60,284.73,342.50,289.01,342.50C293.29,342.50,297.57,346.92,301.84,348.80C306.12,350.68,310.40,352.25,314.68,353.80C318.96,355.35,323.23,357.07,327.51,358.10C331.79,359.13,336.07,358.92,340.35,360.00C344.62,361.08,348.90,364.60,353.18,364.60C357.46,364.60,361.74,363.50,366.01,363.50C370.29,363.50,374.57,364.83,378.85,365.30C383.13,365.77,387.40,366.17,391.68,366.30C395.96,366.43,400.24,366.37,404.52,366.50C408.79,366.63,413.07,367.23,417.35,367.50C421.63,367.77,425.91,367.78,430.18,368.10C434.46,368.42,438.74,368.53,443.02,369.40C447.30,370.27,451.57,375.00,455.85,375.00C460.13,375.00,464.41,371.60,468.69,371.60C472.96,371.60,477.24,377.00,481.52,377.00C485.80,377.00,490.08,372.42,494.35,367.50C498.63,362.58,502.91,347.50,507.19,347.50C511.47,347.50,515.74,349.40,520.02,349.40C524.30,349.40,528.58,327.57,532.86,326.30C537.13,325.03,541.41,324.98,545.69,324.40C549.97,323.82,554.25,323.70,558.52,322.80C562.80,321.90,567.08,319.00,571.36,319.00C575.64,319.00,579.91,319.13,584.19,319.40C588.47,319.67,592.75,320.75,597.03,321.90C601.30,323.05,605.58,326.30,609.86,326.30C614.14,326.30,618.42,326.30,622.69,326.30C626.97,326.30,631.25,291.30,635.53,291.30C639.81,291.30,644.08,291.90,648.36,291.90C652.64,291.90,656.92,291.90,661.20,291.90C665.47,291.90,669.75,290.87,674.03,288.80C678.31,286.73,682.59,280.60,686.86,279.00C691.14,277.40,695.42,276.60,699.70,276.60C703.98,276.60,708.25,279.57,712.53,281.60C716.81,283.63,721.09,288.80,725.37,288.80C729.64,288.80,733.92,276.65,738.20,273.10C742.48,269.55,746.76,267.50,751.03,267.50C755.31,267.50,759.59,270.00,763.87,270.00C768.15,270.00,772.42,269.60,776.70,268.80C780.98,268.00,785.26,261.10,789.54,258.80C793.81,256.50,798.09,255.00,802.37,255.00C806.65,255.00,810.93,264.90,815.20,264.90C819.48,264.90,823.76,262.17,828.04,260.00C832.32,257.83,836.59,255.97,840.87,251.90C845.15,247.83,849.43,238.67,853.71,235.60C857.98,232.53,862.26,231.87,866.54,231.00C870.82,230.13,875.10,230.57,879.37,229.70C883.65,228.83,887.93,222.00,892.21,220.60C896.49,219.20,900.76,218.50,905.04,218.50C909.32,218.50,913.60,224.70,917.88,224.70C922.15,224.70,926.43,207.33,930.71,205.00C934.99,202.67,939.27,201.50,943.54,201.50C947.82,201.50,952.10,206.58,956.38,210.60C960.66,214.62,964.93,225.60,969.21,225.60C973.49,225.60,977.77,221.90,982.05,221.90C986.32,221.90,990.60,231.10,994.88,240.30L994.88,488.10C990.60,498.30,986.32,508.50,982.05,508.50C977.77,508.50,973.49,507.40,969.21,507.40C964.93,507.40,960.66,519.75,956.38,524.20C952.10,528.65,947.82,534.10,943.54,534.10C939.27,534.10,934.99,529.87,930.71,526.40C926.43,522.93,922.15,513.30,917.88,513.30C913.60,513.30,909.32,522.70,905.04,522.70C900.76,522.70,896.49,521.50,892.21,519.20C887.93,516.90,883.65,509.30,879.37,508.90C875.10,508.50,870.82,508.70,866.54,508.30C862.26,507.90,857.98,503.30,853.71,498.00C849.43,492.70,845.15,481.35,840.87,476.50C836.59,471.65,832.32,471.03,828.04,468.90C823.76,466.77,819.48,463.70,815.20,463.70C810.93,463.70,806.65,470.60,802.37,470.60C798.09,470.60,793.81,467.22,789.54,464.00C785.26,460.78,780.98,451.30,776.70,451.30C772.42,451.30,768.15,452.38,763.87,453.10C759.59,453.82,755.31,455.60,751.03,455.60C746.76,455.60,742.48,454.37,738.20,451.90C733.92,449.43,729.64,440.60,725.37,440.60C721.09,440.60,716.81,446.50,712.53,448.80C708.25,451.10,703.98,454.40,699.70,454.40C695.42,454.40,691.14,453.77,686.86,452.50C682.59,451.23,678.31,447.18,674.03,445.00C669.75,442.82,665.47,439.40,661.20,439.40C656.92,439.40,652.64,442.72,648.36,445.00C644.08,447.28,639.81,448.52,635.53,453.10C631.25,457.68,626.97,466.13,622.69,472.50C618.42,478.87,614.14,484.22,609.86,491.30C605.58,498.38,601.30,509.17,597.03,515.00C592.75,520.83,588.47,524.63,584.19,526.30C579.91,527.97,575.64,528.08,571.36,528.80C567.08,529.52,562.80,530.60,558.52,530.60C554.25,530.60,549.97,525.60,545.69,525.60C541.41,525.60,537.13,535.00,532.86,535.00C528.58,535.00,524.30,530.00,520.02,530.00C515.74,530.00,511.47,540.05,507.19,543.80C502.91,547.55,498.63,552.10,494.35,552.50C490.08,552.90,485.80,553.10,481.52,553.10C477.24,553.10,472.96,540.38,468.69,535.60C464.41,530.82,460.13,529.18,455.85,524.40C451.57,519.62,447.30,512.63,443.02,506.90C438.74,501.17,434.46,495.48,430.18,490.00C425.91,484.52,421.63,477.83,417.35,474.00C413.07,470.17,408.79,467.00,404.52,467.00C400.24,467.00,395.96,470.10,391.68,470.10C387.40,470.10,383.13,468.95,378.85,467.60C374.57,466.25,370.29,463.88,366.01,462.00C361.74,460.12,357.46,457.88,353.18,456.30C348.90,454.72,344.62,452.50,340.35,452.50C336.07,452.50,331.79,452.50,327.51,452.50C323.23,452.50,318.96,449.58,314.68,448.00C310.40,446.42,306.12,444.62,301.84,443.00C297.57,441.38,293.29,438.30,289.01,438.30C284.73,438.30,280.45,448.28,276.18,451.90C271.90,455.52,267.62,457.50,263.34,460.00C259.06,462.50,254.79,466.10,250.51,466.90C246.23,467.70,241.95,467.30,237.67,468.10C233.40,468.90,229.12,477.37,224.84,480.60C220.56,483.83,216.28,487.50,212.01,487.50C207.73,487.50,203.45,476.55,199.17,469.00C194.89,461.45,190.62,450.57,186.34,442.20C182.06,433.83,177.78,425.83,173.50,418.80C169.23,411.77,164.95,404.70,160.67,400.00C156.39,395.30,152.11,393.88,147.84,390.60C143.56,387.32,139.28,383.77,135.00,380.30C130.72,376.83,126.45,372.63,122.17,369.80C117.89,366.97,113.61,364.98,109.33,363.30C105.06,361.62,100.78,360.95,96.50,359.70C92.22,358.45,87.94,357.15,83.67,355.80C79.39,354.45,75.11,352.82,70.83,351.60C66.55,350.38,62.28,349.27,58.00,348.50C53.72,347.73,49.44,347.33,45.16,347.00C40.89,346.67,36.61,346.58,32.33,346.50Z" fill="#50968c"/>
<path d="M32.33,346.50C36.61,346.66,40.89,346.82,45.16,347.00C49.44,347.18,53.72,347.41,58.00,347.60C62.28,347.79,66.55,348.02,70.83,348.15C75.11,348.28,79.39,348.26,83.67,348.40C87.94,348.54,92.22,348.75,96.50,349.00C100.78,349.25,105.06,349.90,109.33,349.90C113.61,349.90,117.89,348.05,122.17,347.95C126.45,347.85,130.72,347.90,135.00,347.80C139.28,347.70,143.56,344.50,147.84,344.50C152.11,344.50,156.39,345.25,160.67,346.00C164.95,346.75,169.23,349.00,173.50,349.00C177.78,349.00,182.06,347.07,186.34,345.30C190.62,343.53,194.89,338.40,199.17,338.40C203.45,338.40,207.73,339.33,212.01,340.90C216.28,342.47,220.56,345.83,224.84,347.80C229.12,349.77,233.40,351.83,237.67,352.70C241.95,353.57,246.23,354.00,250.51,354.00C254.79,354.00,259.06,347.57,263.34,346.50C267.62,345.43,271.90,345.10,276.18,344.90C280.45,344.70,284.73,344.60,289.01,344.60C293.29,344.60,297.57,349.02,301.84,350.90C306.12,352.78,310.40,354.35,314.68,355.90C318.96,357.45,323.23,359.17,327.51,360.20C331.79,361.23,336.07,361.02,340.35,362.10C344.62,363.18,348.90,366.70,353.18,366.70C357.46,366.70,361.74,364.90,366.01,364.90C370.29,364.90,374.57,366.23,378.85,366.70C383.13,367.17,387.40,367.57,391.68,367.70C395.96,367.83,400.24,367.77,404.52,367.90C408.79,368.03,413.07,368.63,417.35,368.90C421.63,369.17,425.91,369.18,430.18,369.50C434.46,369.82,438.74,369.93,443.02,370.80C447.30,371.67,451.57,376.40,455.85,376.40C460.13,376.40,464.41,373.00,468.69,373.00C472.96,373.00,477.24,378.40,481.52,378.40C485.80,378.40,490.08,373.82,494.35,368.90C498.63,363.98,502.91,348.90,507.19,348.90C511.47,348.90,515.74,350.80,520.02,350.80C524.30,350.80,528.58,328.97,532.86,327.70C537.13,326.43,541.41,326.38,545.69,325.80C549.97,325.22,554.25,325.10,558.52,324.20C562.80,323.30,567.08,320.40,571.36,320.40C575.64,320.40,579.91,320.53,584.19,320.80C588.47,321.07,592.75,322.15,597.03,323.30C601.30,324.45,605.58,327.57,609.86,327.70C614.14,327.83,618.42,327.90,622.69,327.90C626.97,327.90,631.25,308.10,635.53,308.10C639.81,308.10,644.08,308.10,648.36,308.10C652.64,308.10,656.92,308.80,661.20,308.80C665.47,308.80,669.75,305.23,674.03,303.10C678.31,300.97,682.59,297.77,686.86,296.00C691.14,294.23,695.42,292.50,699.70,292.50C703.98,292.50,708.25,295.62,712.53,297.80C716.81,299.98,721.09,305.60,725.37,305.60C729.64,305.60,733.92,294.23,738.20,291.30C742.48,288.37,746.76,286.90,751.03,286.90C755.31,286.90,759.59,288.10,763.87,288.10C768.15,288.10,772.42,287.90,776.70,287.50C780.98,287.10,785.26,281.38,789.54,279.40C793.81,277.42,798.09,275.60,802.37,275.60C806.65,275.60,810.93,284.70,815.20,284.70C819.48,284.70,823.76,282.13,828.04,280.00C832.32,277.87,836.59,275.75,840.87,271.90C845.15,268.05,849.43,259.83,853.71,256.90C857.98,253.97,862.26,253.85,866.54,252.50C870.82,251.15,875.10,250.88,879.37,248.80C883.65,246.72,887.93,240.93,892.21,240.00C896.49,239.07,900.76,238.60,905.04,238.60C909.32,238.60,913.60,245.00,917.88,245.00C922.15,245.00,926.43,227.93,930.71,225.00C934.99,222.07,939.27,220.60,943.54,220.60C947.82,220.60,952.10,223.47,956.38,227.50C960.66,231.53,964.93,244.80,969.21,244.80C973.49,244.80,977.77,240.00,982.05,240.00C986.32,240.00,990.60,249.40,994.88,258.80L994.88,488.10C990.60,498.30,986.32,508.50,982.05,508.50C977.77,508.50,973.49,507.40,969.21,507.40C964.93,507.40,960.66,519.75,956.38,524.20C952.10,528.65,947.82,534.10,943.54,534.10C939.27,534.10,934.99,529.87,930.71,526.40C926.43,522.93,922.15,513.30,917.88,513.30C913.60,513.30,909.32,522.70,905.04,522.70C900.76,522.70,896.49,521.50,892.21,519.20C887.93,516.90,883.65,509.30,879.37,508.90C875.10,508.50,870.82,508.70,866.54,508.30C862.26,507.90,857.98,503.30,853.71,498.00C849.43,492.70,845.15,481.35,840.87,476.50C836.59,471.65,832.32,471.03,828.04,468.90C823.76,466.77,819.48,463.70,815.20,463.70C810.93,463.70,806.65,470.60,802.37,470.60C798.09,470.60,793.81,467.22,789.54,464.00C785.26,460.78,780.98,451.30,776.70,451.30C772.42,451.30,768.15,452.38,763.87,453.10C759.59,453.82,755.31,455.60,751.03,455.60C746.76,455.60,742.48,454.37,738.20,451.90C733.92,449.43,729.64,440.60,725.37,440.60C721.09,440.60,716.81,446.50,712.53,448.80C708.25,451.10,703.98,454.40,699.70,454.40C695.42,454.40,691.14,453.77,686.86,452.50C682.59,451.23,678.31,447.18,674.03,445.00C669.75,442.82,665.47,439.40,661.20,439.40C656.92,439.40,652.64,442.72,648.36,445.00C644.08,447.28,639.81,448.52,635.53,453.10C631.25,457.68,626.97,466.13,622.69,472.50C618.42,478.87,614.14,484.22,609.86,491.30C605.58,498.38,601.30,509.17,597.03,515.00C592.75,520.83,588.47,524.63,584.19,526.30C579.91,527.97,575.64,528.08,571.36,528.80C567.08,529.52,562.80,530.60,558.52,530.60C554.25,530.60,549.97,525.60,545.69,525.60C541.41,525.60,537.13,535.00,532.86,535.00C528.58,535.00,524.30,530.00,520.02,530.00C515.74,530.00,511.47,540.05,507.19,543.80C502.91,547.55,498.63,552.10,494.35,552.50C490.08,552.90,485.80,553.10,481.52,553.10C477.24,553.10,472.96,540.38,468.69,535.60C464.41,530.82,460.13,529.18,455.85,524.40C451.57,519.62,447.30,512.63,443.02,506.90C438.74,501.17,434.46,495.48,430.18,490.00C425.91,484.52,421.63,477.83,417.35,474.00C413.07,470.17,408.79,467.00,404.52,467.00C400.24,467.00,395.96,470.10,391.68,470.10C387.40,470.10,383.13,468.95,378.85,467.60C374.57,466.25,370.29,463.88,366.01,462.00C361.74,460.12,357.46,457.88,353.18,456.30C348.90,454.72,344.62,452.50,340.35,452.50C336.07,452.50,331.79,452.50,327.51,452.50C323.23,452.50,318.96,449.58,314.68,448.00C310.40,446.42,306.12,444.62,301.84,443.00C297.57,441.38,293.29,438.30,289.01,438.30C284.73,438.30,280.45,448.28,276.18,451.90C271.90,455.52,267.62,457.50,263.34,460.00C259.06,462.50,254.79,466.10,250.51,466.90C246.23,467.70,241.95,467.30,237.67,468.10C233.40,468.90,229.12,477.37,224.84,480.60C220.56,483.83,216.28,487.50,212.01,487.50C207.73,487.50,203.45,476.55,199.17,469.00C194.89,461.45,190.62,450.57,186.34,442.20C182.06,433.83,177.78,425.83,173.50,418.80C169.23,411.77,164.95,404.70,160.67,400.00C156.39,395.30,152.11,393.88,147.84,390.60C143.56,387.32,139.28,383.77,135.00,380.30C130.72,376.83,126.45,372.63,122.17,369.80C117.89,366.97,113.61,364.98,109.33,363.30C105.06,361.62,100.78,360.95,96.50,359.70C92.22,358.45,87.94,357.15,83.67,355.80C79.39,354.45,75.11,352.82,70.83,351.60C66.55,350.38,62.28,349.27,58.00,348.50C53.72,347.73,49.44,347.33,45.16,347.00C40.89,346.67,36.61,346.58,32.33,346.50Z" fill="#777777"/>
<path d="M32.33,346.50C36.61,346.65,40.89,346.80,45.16,347.00C49.44,347.20,53.72,347.49,58.00,347.70C62.28,347.91,66.55,348.12,70.83,348.25C75.11,348.38,79.39,348.36,83.67,348.50C87.94,348.64,92.22,348.82,96.50,349.10C100.78,349.38,105.06,350.20,109.33,350.20C113.61,350.20,117.89,349.75,122.17,349.75C126.45,349.75,130.72,352.40,135.00,352.40C139.28,352.40,143.56,352.40,147.84,352.40C152.11,352.40,156.39,353.40,160.67,354.70C164.95,356.00,169.23,360.20,173.50,360.20C177.78,360.20,182.06,359.57,186.34,358.30C190.62,357.03,194.89,349.60,199.17,349.60C203.45,349.60,207.73,349.80,212.01,350.20C216.28,350.60,220.56,357.40,224.84,357.40C229.12,357.40,233.40,353.30,237.67,353.30C241.95,353.30,246.23,354.40,250.51,354.40C254.79,354.40,259.06,347.97,263.34,346.90C267.62,345.83,271.90,345.50,276.18,345.30C280.45,345.10,284.73,345.00,289.01,345.00C293.29,345.00,297.57,349.42,301.84,351.30C306.12,353.18,310.40,354.75,314.68,356.30C318.96,357.85,323.23,359.57,327.51,360.60C331.79,361.63,336.07,361.42,340.35,362.50C344.62,363.58,348.90,367.10,353.18,367.10C357.46,367.10,361.74,365.30,366.01,365.30C370.29,365.30,374.57,366.63,378.85,367.10C383.13,367.57,387.40,367.97,391.68,368.10C395.96,368.23,400.24,368.17,404.52,368.30C408.79,368.43,413.07,369.03,417.35,369.30C421.63,369.57,425.91,369.58,430.18,369.90C434.46,370.22,438.74,370.33,443.02,371.20C447.30,372.07,451.57,376.80,455.85,376.80C460.13,376.80,464.41,373.40,468.69,373.40C472.96,373.40,477.24,378.80,481.52,378.80C485.80,378.80,490.08,374.22,494.35,369.30C498.63,364.38,502.91,349.30,507.19,349.30C511.47,349.30,515.74,351.20,520.02,351.20C524.30,351.20,528.58,329.37,532.86,328.10C537.13,326.83,541.41,326.78,545.69,326.20C549.97,325.62,554.25,325.50,558.52,324.60C562.80,323.70,567.08,320.80,571.36,320.80C575.64,320.80,579.91,320.93,584.19,321.20C588.47,321.47,592.75,322.55,597.03,323.70C601.30,324.85,605.58,327.97,609.86,328.10C614.14,328.23,618.42,328.30,622.69,328.30C626.97,328.30,631.25,309.10,635.53,309.10C639.81,309.10,644.08,309.10,648.36,309.10C652.64,309.10,656.92,309.80,661.20,309.80C665.47,309.80,669.75,306.23,674.03,304.10C678.31,301.97,682.59,298.77,686.86,297.00C691.14,295.23,695.42,293.50,699.70,293.50C703.98,293.50,708.25,296.62,712.53,298.80C716.81,300.98,721.09,306.60,725.37,306.60C729.64,306.60,733.92,295.23,738.20,292.30C742.48,289.37,746.76,287.90,751.03,287.90C755.31,287.90,759.59,289.10,763.87,289.10C768.15,289.10,772.42,288.90,776.70,288.50C780.98,288.10,785.26,282.38,789.54,280.40C793.81,278.42,798.09,276.60,802.37,276.60C806.65,276.60,810.93,285.70,815.20,285.70C819.48,285.70,823.76,283.13,828.04,281.00C832.32,278.87,836.59,276.75,840.87,272.90C845.15,269.05,849.43,260.83,853.71,257.90C857.98,254.97,862.26,254.85,866.54,253.50C870.82,252.15,875.10,251.88,879.37,249.80C883.65,247.72,887.93,241.93,892.21,241.00C896.49,240.07,900.76,239.60,905.04,239.60C909.32,239.60,913.60,246.00,917.88,246.00C922.15,246.00,926.43,228.93,930.71,226.00C934.99,223.07,939.27,221.60,943.54,221.60C947.82,221.60,952.10,224.47,956.38,228.50C960.66,232.53,964.93,245.80,969.21,245.80C973.49,245.80,977.77,241.00,982.05,241.00C986.32,241.00,990.60,250.40,994.88,259.80L994.88,488.10C990.60,498.30,986.32,508.50,982.05,508.50C977.77,508.50,973.49,507.40,969.21,507.40C964.93,507.40,960.66,519.75,956.38,524.20C952.10,528.65,947.82,534.10,943.54,534.10C939.27,534.10,934.99,529.87,930.71,526.40C926.43,522.93,922.15,513.30,917.88,513.30C913.60,513.30,909.32,522.70,905.04,522.70C900.76,522.70,896.49,521.50,892.21,519.20C887.93,516.90,883.65,509.30,879.37,508.90C875.10,508.50,870.82,508.70,866.54,508.30C862.26,507.90,857.98,503.30,853.71,498.00C849.43,492.70,845.15,481.35,840.87,476.50C836.59,471.65,832.32,471.03,828.04,468.90C823.76,466.77,819.48,463.70,815.20,463.70C810.93,463.70,806.65,470.60,802.37,470.60C798.09,470.60,793.81,467.22,789.54,464.00C785.26,460.78,780.98,451.30,776.70,451.30C772.42,451.30,768.15,452.38,763.87,453.10C759.59,453.82,755.31,455.60,751.03,455.60C746.76,455.60,742.48,454.37,738.20,451.90C733.92,449.43,729.64,440.60,725.37,440.60C721.09,440.60,716.81,446.50,712.53,448.80C708.25,451.10,703.98,454.40,699.70,454.40C695.42,454.40,691.14,453.77,686.86,452.50C682.59,451.23,678.31,447.18,674.03,445.00C669.75,442.82,665.47,439.40,661.20,439.40C656.92,439.40,652.64,442.72,648.36,445.00C644.08,447.28,639.81,448.52,635.53,453.10C631.25,457.68,626.97,466.13,622.69,472.50C618.42,478.87,614.14,484.22,609.86,491.30C605.58,498.38,601.30,509.17,597.03,515.00C592.75,520.83,588.47,524.63,584.19,526.30C579.91,527.97,575.64,528.08,571.36,528.80C567.08,529.52,562.80,530.60,558.52,530.60C554.25,530.60,549.97,525.60,545.69,525.60C541.41,525.60,537.13,535.00,532.86,535.00C528.58,535.00,524.30,530.00,520.02,530.00C515.74,530.00,511.47,540.05,507.19,543.80C502.91,547.55,498.63,552.10,494.35,552.50C490.08,552.90,485.80,553.10,481.52,553.10C477.24,553.10,472.96,540.38,468.69,535.60C464.41,530.82,460.13,529.18,455.85,524.40C451.57,519.62,447.30,512.63,443.02,506.90C438.74,501.17,434.46,495.48,430.18,490.00C425.91,484.52,421.63,477.83,417.35,474.00C413.07,470.17,408.79,467.00,404.52,467.00C400.24,467.00,395.96,470.10,391.68,470.10C387.40,470.10,383.13,468.95,378.85,467.60C374.57,466.25,370.29,463.88,366.01,462.00C361.74,460.12,357.46,457.88,353.18,456.30C348.90,454.72,344.62,452.50,340.35,452.50C336.07,452.50,331.79,452.50,327.51,452.50C323.23,452.50,318.96,449.58,314.68,448.00C310.40,446.42,306.12,444.62,301.84,443.00C297.57,441.38,293.29,438.30,289.01,438.30C284.73,438.30,280.45,448.28,276.18,451.90C271.90,455.52,267.62,457.50,263.34,460.00C259.06,462.50,254.79,466.10,250.51,466.90C246.23,467.70,241.95,467.30,237.67,468.10C233.40,468.90,229.12,477.37,224.84,480.60C220.56,483.83,216.28,487.50,212.01,487.50C207.73,487.50,203.45,476.55,199.17,469.00C194.89,461.45,190.62,450.57,186.34,442.20C182.06,433.83,177.78,425.83,173.50,418.80C169.23,411.77,164.95,404.70,160.67,400.00C156.39,395.30,152.11,393.88,147.84,390.60C143.56,387.32,139.28,383.77,135.00,380.30C130.72,376.83,126.45,372.63,122.17,369.80C117.89,366.97,113.61,364.98,109.33,363.30C105.06,361.62,100.78,360.95,96.50,359.70C92.22,358.45,87.94,357.15,83.67,355.80C79.39,354.45,75.11,352.82,70.83,351.60C66.55,350.38,62.28,349.27,58.00,348.50C53.72,347.73,49.44,347.33,45.16,347.00C40.89,346.67,36.61,346.58,32.33,346.50Z" fill="#9a649d"/>
<path d="M32.33,346.50C36.61,346.64,40.89,346.78,45.16,347.00C49.44,347.22,53.72,347.58,58.00,347.80C62.28,348.03,66.55,348.22,70.83,348.35C75.11,348.48,79.39,348.46,83.67,348.60C87.94,348.74,92.22,348.92,96.50,349.20C100.78,349.48,105.06,350.03,109.33,350.30C113.61,350.58,117.89,350.48,122.17,350.85C126.45,351.22,130.72,353.50,135.00,353.50C139.28,353.50,143.56,353.50,147.84,353.50C152.11,353.50,156.39,354.50,160.67,355.80C164.95,357.10,169.23,361.30,173.50,361.30C177.78,361.30,182.06,360.67,186.34,359.40C190.62,358.13,194.89,350.70,199.17,350.70C203.45,350.70,207.73,350.90,212.01,351.30C216.28,351.70,220.56,358.50,224.84,358.50C229.12,358.50,233.40,353.40,237.67,353.40C241.95,353.40,246.23,354.50,250.51,354.50C254.79,354.50,259.06,348.07,263.34,347.00C267.62,345.93,271.90,345.60,276.18,345.40C280.45,345.20,284.73,345.10,289.01,345.10C293.29,345.10,297.57,349.52,301.84,351.40C306.12,353.28,310.40,354.85,314.68,356.40C318.96,357.95,323.23,359.67,327.51,360.70C331.79,361.73,336.07,361.52,340.35,362.60C344.62,363.68,348.90,367.20,353.18,367.20C357.46,367.20,361.74,365.60,366.01,365.60C370.29,365.60,374.57,367.97,378.85,368.80C383.13,369.63,387.40,369.98,391.68,370.60C395.96,371.22,400.24,371.67,404.52,372.50C408.79,373.33,413.07,374.87,417.35,375.60C421.63,376.33,425.91,376.48,430.18,376.90C434.46,377.32,438.74,377.30,443.02,378.10C447.30,378.90,451.57,384.78,455.85,387.50C460.13,390.22,464.41,392.07,468.69,394.40C472.96,396.73,477.24,401.50,481.52,401.50C485.80,401.50,490.08,393.53,494.35,388.80C498.63,384.07,502.91,375.17,507.19,373.10C511.47,371.03,515.74,372.07,520.02,370.00C524.30,367.93,528.58,348.30,532.86,346.90C537.13,345.50,541.41,345.53,545.69,344.80C549.97,344.07,554.25,343.55,558.52,342.50C562.80,341.45,567.08,338.77,571.36,338.50C575.64,338.23,579.91,338.10,584.19,338.10C588.47,338.10,592.75,339.05,597.03,340.00C601.30,340.95,605.58,343.20,609.86,343.80C614.14,344.40,618.42,344.70,622.69,344.70C626.97,344.70,631.25,325.60,635.53,325.60C639.81,325.60,644.08,326.08,648.36,326.30C652.64,326.52,656.92,326.90,661.20,326.90C665.47,326.90,669.75,324.22,674.03,322.50C678.31,320.78,682.59,318.00,686.86,316.60C691.14,315.20,695.42,314.10,699.70,314.10C703.98,314.10,708.25,317.30,712.53,318.80C716.81,320.30,721.09,323.10,725.37,323.10C729.64,323.10,733.92,312.02,738.20,308.80C742.48,305.58,746.76,303.80,751.03,303.80C755.31,303.80,759.59,305.90,763.87,306.30C768.15,306.70,772.42,306.90,776.70,306.90C780.98,306.90,785.26,300.68,789.54,298.80C793.81,296.92,798.09,295.60,802.37,295.60C806.65,295.60,810.93,305.80,815.20,305.80C819.48,305.80,823.76,302.53,828.04,300.00C832.32,297.47,836.59,294.45,840.87,290.60C845.15,286.75,849.43,276.90,853.71,276.90C857.98,276.90,862.26,278.80,866.54,278.80C870.82,278.80,875.10,276.18,879.37,274.40C883.65,272.62,887.93,269.30,892.21,268.10C896.49,266.90,900.76,266.30,905.04,266.30C909.32,266.30,913.60,270.60,917.88,270.60C922.15,270.60,926.43,256.88,930.71,252.00C934.99,247.12,939.27,241.30,943.54,241.30C947.82,241.30,952.10,245.37,956.38,248.80C960.66,252.23,964.93,261.90,969.21,261.90C973.49,261.90,977.77,257.50,982.05,257.50C986.32,257.50,990.60,266.90,994.88,276.30L994.88,488.10C990.60,498.30,986.32,508.50,982.05,508.50C977.77,508.50,973.49,507.40,969.21,507.40C964.93,507.40,960.66,519.75,956.38,524.20C952.10,528.65,947.82,534.10,943.54,534.10C939.27,534.10,934.99,529.87,930.71,526.40C926.43,522.93,922.15,513.30,917.88,513.30C913.60,513.30,909.32,522.70,905.04,522.70C900.76,522.70,896.49,521.50,892.21,519.20C887.93,516.90,883.65,509.30,879.37,508.90C875.10,508.50,870.82,508.70,866.54,508.30C862.26,507.90,857.98,503.30,853.71,498.00C849.43,492.70,845.15,481.35,840.87,476.50C836.59,471.65,832.32,471.03,828.04,468.90C823.76,466.77,819.48,463.70,815.20,463.70C810.93,463.70,806.65,470.60,802.37,470.60C798.09,470.60,793.81,467.22,789.54,464.00C785.26,460.78,780.98,451.30,776.70,451.30C772.42,451.30,768.15,452.38,763.87,453.10C759.59,453.82,755.31,455.60,751.03,455.60C746.76,455.60,742.48,454.37,738.20,451.90C733.92,449.43,729.64,440.60,725.37,440.60C721.09,440.60,716.81,446.50,712.53,448.80C708.25,451.10,703.98,454.40,699.70,454.40C695.42,454.40,691.14,453.77,686.86,452.50C682.59,451.23,678.31,447.18,674.03,445.00C669.75,442.82,665.47,439.40,661.20,439.40C656.92,439.40,652.64,442.72,648.36,445.00C644.08,447.28,639.81,448.52,635.53,453.10C631.25,457.68,626.97,466.13,622.69,472.50C618.42,478.87,614.14,484.22,609.86,491.30C605.58,498.38,601.30,509.17,597.03,515.00C592.75,520.83,588.47,524.63,584.19,526.30C579.91,527.97,575.64,528.08,571.36,528.80C567.08,529.52,562.80,530.60,558.52,530.60C554.25,530.60,549.97,525.60,545.69,525.60C541.41,525.60,537.13,535.00,532.86,535.00C528.58,535.00,524.30,530.00,520.02,530.00C515.74,530.00,511.47,540.05,507.19,543.80C502.91,547.55,498.63,552.10,494.35,552.50C490.08,552.90,485.80,553.10,481.52,553.10C477.24,553.10,472.96,540.38,468.69,535.60C464.41,530.82,460.13,529.18,455.85,524.40C451.57,519.62,447.30,512.63,443.02,506.90C438.74,501.17,434.46,495.48,430.18,490.00C425.91,484.52,421.63,477.83,417.35,474.00C413.07,470.17,408.79,467.00,404.52,467.00C400.24,467.00,395.96,470.10,391.68,470.10C387.40,470.10,383.13,468.95,378.85,467.60C374.57,466.25,370.29,463.88,366.01,462.00C361.74,460.12,357.46,457.88,353.18,456.30C348.90,454.72,344.62,452.50,340.35,452.50C336.07,452.50,331.79,452.50,327.51,452.50C323.23,452.50,318.96,449.58,314.68,448.00C310.40,446.42,306.12,444.62,301.84,443.00C297.57,441.38,293.29,438.30,289.01,438.30C284.73,438.30,280.45,448.28,276.18,451.90C271.90,455.52,267.62,457.50,263.34,460.00C259.06,462.50,254.79,466.10,250.51,466.90C246.23,467.70,241.95,467.30,237.67,468.10C233.40,468.90,229.12,477.37,224.84,480.60C220.56,483.83,216.28,487.50,212.01,487.50C207.73,487.50,203.45,476.55,199.17,469.00C194.89,461.45,190.62,450.57,186.34,442.20C182.06,433.83,177.78,425.83,173.50,418.80C169.23,411.77,164.95,404.70,160.67,400.00C156.39,395.30,152.11,393.88,147.84,390.60C143.56,387.32,139.28,383.77,135.00,380.30C130.72,376.83,126.45,372.63,122.17,369.80C117.89,366.97,113.61,364.98,109.33,363.30C105.06,361.62,100.78,360.95,96.50,359.70C92.22,358.45,87.94,357.15,83.67,355.80C79.39,354.45,75.11,352.82,70.83,351.60C66.55,350.38,62.28,349.27,58.00,348.50C53.72,347.73,49.44,347.33,45.16,347.00C40.89,346.67,36.61,346.58,32.33,346.50Z" fill="#c46a56"/>
<path d="M32.33,346.50C36.61,346.63,40.89,346.77,45.16,347.00C49.44,347.23,53.72,347.66,58.00,347.90C62.28,348.14,66.55,348.32,70.83,348.45C75.11,348.58,79.39,348.56,83.67,348.70C87.94,348.84,92.22,349.02,96.50,349.30C100.78,349.58,105.06,350.13,109.33,350.40C113.61,350.68,117.89,350.58,122.17,350.95C126.45,351.32,130.72,353.60,135.00,353.60C139.28,353.60,143.56,353.60,147.84,353.60C152.11,353.60,156.39,354.60,160.67,355.90C164.95,357.20,169.23,361.40,173.50,361.40C177.78,361.40,182.06,360.77,186.34,359.50C190.62,358.23,194.89,350.80,199.17,350.80C203.45,350.80,207.73,351.00,212.01,351.40C216.28,351.80,220.56,358.60,224.84,358.60C229.12,358.60,233.40,353.50,237.67,353.50C241.95,353.50,246.23,354.60,250.51,354.60C254.79,354.60,259.06,348.17,263.34,347.10C267.62,346.03,271.90,345.70,276.18,345.50C280.45,345.30,284.73,345.20,289.01,345.20C293.29,345.20,297.57,349.62,301.84,351.50C306.12,353.38,310.40,354.95,314.68,356.50C318.96,358.05,323.23,359.77,327.51,360.80C331.79,361.83,336.07,361.62,340.35,362.70C344.62,363.78,348.90,367.30,353.18,367.30C357.46,367.30,361.74,366.30,366.01,366.30C370.29,366.30,374.57,368.87,378.85,369.80C383.13,370.73,387.40,371.20,391.68,371.90C395.96,372.60,400.24,373.07,404.52,374.00C408.79,374.93,413.07,376.18,417.35,377.50C421.63,378.82,425.91,378.97,430.18,381.90C434.46,384.83,438.74,391.03,443.02,395.30C447.30,399.57,451.57,403.70,455.85,407.50C460.13,411.30,464.41,415.08,468.69,418.10C472.96,421.12,477.24,425.60,481.52,425.60C485.80,425.60,490.08,418.68,494.35,413.80C498.63,408.92,502.91,397.97,507.19,396.30C511.47,394.63,515.74,395.47,520.02,393.80C524.30,392.13,528.58,373.47,532.86,370.60C537.13,367.73,541.41,367.38,545.69,366.30C549.97,365.22,554.25,365.25,558.52,364.10C562.80,362.95,567.08,359.40,571.36,359.40C575.64,359.40,579.91,359.60,584.19,359.60C588.47,359.60,592.75,359.10,597.03,359.10C601.30,359.10,605.58,362.80,609.86,362.80C614.14,362.80,618.42,361.33,622.69,358.40C626.97,355.47,631.25,335.60,635.53,335.60C639.81,335.60,644.08,336.28,648.36,336.60C652.64,336.92,656.92,337.50,661.20,337.50C665.47,337.50,669.75,335.13,674.03,334.10C678.31,333.07,682.59,331.50,686.86,331.30C691.14,331.10,695.42,331.00,699.70,331.00C703.98,331.00,708.25,334.30,712.53,335.60C716.81,336.90,721.09,338.80,725.37,338.80C729.64,338.80,733.92,328.55,738.20,325.00C742.48,321.45,746.76,317.50,751.03,317.50C755.31,317.50,759.59,320.00,763.87,320.00C768.15,320.00,772.42,319.42,776.70,318.80C780.98,318.18,785.26,317.03,789.54,316.30C793.81,315.57,798.09,314.40,802.37,314.40C806.65,314.40,810.93,323.50,815.20,323.50C819.48,323.50,823.76,318.20,828.04,318.00C832.32,317.80,836.59,317.90,840.87,317.70C845.15,317.50,849.43,304.80,853.71,304.80C857.98,304.80,862.26,305.40,866.54,305.40C870.82,305.40,875.10,301.68,879.37,299.60C883.65,297.52,887.93,294.30,892.21,292.90C896.49,291.50,900.76,291.20,905.04,290.80C909.32,290.40,913.60,290.60,917.88,290.20C922.15,289.80,926.43,275.82,930.71,271.30C934.99,266.78,939.27,263.10,943.54,263.10C947.82,263.10,952.10,266.22,956.38,271.50C960.66,276.78,964.93,294.80,969.21,294.80C973.49,294.80,977.77,291.10,982.05,291.10C986.32,291.10,990.60,299.85,994.88,308.60L994.88,488.10C990.60,498.30,986.32,508.50,982.05,508.50C977.77,508.50,973.49,507.40,969.21,507.40C964.93,507.40,960.66,519.75,956.38,524.20C952.10,528.65,947.82,534.10,943.54,534.10C939.27,534.10,934.99,529.87,930.71,526.40C926.43,522.93,922.15,513.30,917.88,513.30C913.60,513.30,909.32,522.70,905.04,522.70C900.76,522.70,896.49,521.50,892.21,519.20C887.93,516.90,883.65,509.30,879.37,508.90C875.10,508.50,870.82,508.70,866.54,508.30C862.26,507.90,857.98,503.30,853.71,498.00C849.43,492.70,845.15,481.35,840.87,476.50C836.59,471.65,832.32,471.03,828.04,468.90C823.76,466.77,819.48,463.70,815.20,463.70C810.93,463.70,806.65,470.60,802.37,470.60C798.09,470.60,793.81,467.22,789.54,464.00C785.26,460.78,780.98,451.30,776.70,451.30C772.42,451.30,768.15,452.38,763.87,453.10C759.59,453.82,755.31,455.60,751.03,455.60C746.76,455.60,742.48,454.37,738.20,451.90C733.92,449.43,729.64,440.60,725.37,440.60C721.09,440.60,716.81,446.50,712.53,448.80C708.25,451.10,703.98,454.40,699.70,454.40C695.42,454.40,691.14,453.77,686.86,452.50C682.59,451.23,678.31,447.18,674.03,445.00C669.75,442.82,665.47,439.40,661.20,439.40C656.92,439.40,652.64,442.72,648.36,445.00C644.08,447.28,639.81,448.52,635.53,453.10C631.25,457.68,626.97,466.13,622.69,472.50C618.42,478.87,614.14,484.22,609.86,491.30C605.58,498.38,601.30,509.17,597.03,515.00C592.75,520.83,588.47,524.63,584.19,526.30C579.91,527.97,575.64,528.08,571.36,528.80C567.08,529.52,562.80,530.60,558.52,530.60C554.25,530.60,549.97,525.60,545.69,525.60C541.41,525.60,537.13,535.00,532.86,535.00C528.58,535.00,524.30,530.00,520.02,530.00C515.74,530.00,511.47,540.05,507.19,543.80C502.91,547.55,498.63,552.10,494.35,552.50C490.08,552.90,485.80,553.10,481.52,553.10C477.24,553.10,472.96,540.38,468.69,535.60C464.41,530.82,460.13,529.18,455.85,524.40C451.57,519.62,447.30,512.63,443.02,506.90C438.74,501.17,434.46,495.48,430.18,490.00C425.91,484.52,421.63,477.83,417.35,474.00C413.07,470.17,408.79,467.00,404.52,467.00C400.24,467.00,395.96,470.10,391.68,470.10C387.40,470.10,383.13,468.95,378.85,467.60C374.57,466.25,370.29,463.88,366.01,462.00C361.74,460.12,357.46,457.88,353.18,456.30C348.90,454.72,344.62,452.50,340.35,452.50C336.07,452.50,331.79,452.50,327.51,452.50C323.23,452.50,318.96,449.58,314.68,448.00C310.40,446.42,306.12,444.62,301.84,443.00C297.57,441.38,293.29,438.30,289.01,438.30C284.73,438.30,280.45,448.28,276.18,451.90C271.90,455.52,267.62,457.50,263.34,460.00C259.06,462.50,254.79,466.10,250.51,466.90C246.23,467.70,241.95,467.30,237.67,468.10C233.40,468.90,229.12,477.37,224.84,480.60C220.56,483.83,216.28,487.50,212.01,487.50C207.73,487.50,203.45,476.55,199.17,469.00C194.89,461.45,190.62,450.57,186.34,442.20C182.06,433.83,177.78,425.83,173.50,418.80C169.23,411.77,164.95,404.70,160.67,400.00C156.39,395.30,152.11,393.88,147.84,390.60C143.56,387.32,139.28,383.77,135.00,380.30C130.72,376.83,126.45,372.63,122.17,369.80C117.89,366.97,113.61,364.98,109.33,363.30C105.06,361.62,100.78,360.95,96.50,359.70C92.22,358.45,87.94,357.15,83.67,355.80C79.39,354.45,75.11,352.82,70.83,351.60C66.55,350.38,62.28,349.27,58.00,348.50C53.72,347.73,49.44,347.33,45.16,347.00C40.89,346.67,36.61,346.58,32.33,346.50Z" fill="#78567d"/>
<path d="M32.33,346.50C36.61,346.62,40.89,346.75,45.16,347.00C49.44,347.25,53.72,347.74,58.00,348.00C62.28,348.26,66.55,348.42,70.83,348.55C75.11,348.68,79.39,348.66,83.67,348.80C87.94,348.94,92.22,349.12,96.50,349.40C100.78,349.68,105.06,350.23,109.33,350.50C113.61,350.78,117.89,350.68,122.17,351.05C126.45,351.42,130.72,353.70,135.00,353.70C139.28,353.70,143.56,353.70,147.84,353.70C152.11,353.70,156.39,354.70,160.67,356.00C164.95,357.30,169.23,361.50,173.50,361.50C177.78,361.50,182.06,360.87,186.34,359.60C190.62,358.33,194.89,350.90,199.17,350.90C203.45,350.90,207.73,351.10,212.01,351.50C216.28,351.90,220.56,358.70,224.84,358.70C229.12,358.70,233.40,353.60,237.67,353.60C241.95,353.60,246.23,354.70,250.51,354.70C254.79,354.70,259.06,348.27,263.34,347.20C267.62,346.13,271.90,345.80,276.18,345.60C280.45,345.40,284.73,345.30,289.01,345.30C293.29,345.30,297.57,349.72,301.84,351.60C306.12,353.48,310.40,355.05,314.68,356.60C318.96,358.15,323.23,359.87,327.51,360.90C331.79,361.93,336.07,361.72,340.35,362.80C344.62,363.88,348.90,367.40,353.18,367.40C357.46,367.40,361.74,366.80,366.01,366.80C370.29,366.80,374.57,369.37,378.85,370.30C383.13,371.23,387.40,371.70,391.68,372.40C395.96,373.10,400.24,373.57,404.52,374.50C408.79,375.43,413.07,376.68,417.35,378.00C421.63,379.32,425.91,379.47,430.18,382.40C434.46,385.33,438.74,391.53,443.02,395.80C447.30,400.07,451.57,404.20,455.85,408.00C460.13,411.80,464.41,415.58,468.69,418.60C472.96,421.62,477.24,426.10,481.52,426.10C485.80,426.10,490.08,419.18,494.35,414.30C498.63,409.42,502.91,398.47,507.19,396.80C511.47,395.13,515.74,395.97,520.02,394.30C524.30,392.63,528.58,373.97,532.86,371.10C537.13,368.23,541.41,367.88,545.69,366.80C549.97,365.72,554.25,365.75,558.52,364.60C562.80,363.45,567.08,359.90,571.36,359.90C575.64,359.90,579.91,360.10,584.19,360.10C588.47,360.10,592.75,359.60,597.03,359.60C601.30,359.60,605.58,363.30,609.86,363.30C614.14,363.30,618.42,360.80,622.69,358.90C626.97,357.00,631.25,351.90,635.53,351.90C639.81,351.90,644.08,352.50,648.36,352.50C652.64,352.50,656.92,352.30,661.20,351.90C665.47,351.50,669.75,346.10,674.03,343.80C678.31,341.50,682.59,338.50,686.86,338.10C691.14,337.70,695.42,337.50,699.70,337.50C703.98,337.50,708.25,341.27,712.53,343.10C716.81,344.93,721.09,348.50,725.37,348.50C729.64,348.50,733.92,341.92,738.20,338.80C742.48,335.68,746.76,329.80,751.03,329.80C755.31,329.80,759.59,336.23,763.87,337.50C768.15,338.77,772.42,339.40,776.70,339.40C780.98,339.40,785.26,338.90,789.54,338.90C793.81,338.90,798.09,339.57,802.37,340.90C806.65,342.23,810.93,355.30,815.20,356.30C819.48,357.30,823.76,356.80,828.04,357.80C832.32,358.80,836.59,364.83,840.87,370.00C845.15,375.17,849.43,381.80,853.71,388.80C857.98,395.80,862.26,409.00,866.54,412.00C870.82,415.00,875.10,414.85,879.37,416.50C883.65,418.15,887.93,420.17,892.21,421.90C896.49,423.63,900.76,426.63,905.04,426.90C909.32,427.17,913.60,427.30,917.88,427.30C922.15,427.30,926.43,410.60,930.71,410.60C934.99,410.60,939.27,411.02,943.54,411.30C947.82,411.58,952.10,411.63,956.38,412.30C960.66,412.97,964.93,424.40,969.21,425.60C973.49,426.80,977.77,427.33,982.05,427.40C986.32,427.47,990.60,427.48,994.88,427.50L994.88,488.10C990.60,498.30,986.32,508.50,982.05,508.50C977.77,508.50,973.49,507.40,969.21,507.40C964.93,507.40,960.66,519.75,956.38,524.20C952.10,528.65,947.82,534.10,943.54,534.10C939.27,534.10,934.99,529.87,930.71,526.40C926.43,522.93,922.15,513.30,917.88,513.30C913.60,513.30,909.32,522.70,905.04,522.70C900.76,522.70,896.49,521.50,892.21,519.20C887.93,516.90,883.65,509.30,879.37,508.90C875.10,508.50,870.82,508.70,866.54,508.30C862.26,507.90,857.98,503.30,853.71,498.00C849.43,492.70,845.15,481.35,840.87,476.50C836.59,471.65,832.32,471.03,828.04,468.90C823.76,466.77,819.48,463.70,815.20,463.70C810.93,463.70,806.65,470.60,802.37,470.60C798.09,470.60,793.81,467.22,789.54,464.00C785.26,460.78,780.98,451.30,776.70,451.30C772.42,451.30,768.15,452.38,763.87,453.10C759.59,453.82,755.31,455.60,751.03,455.60C746.76,455.60,742.48,454.37,738.20,451.90C733.92,449.43,729.64,440.60,725.37,440.60C721.09,440.60,716.81,446.50,712.53,448.80C708.25,451.10,703.98,454.40,699.70,454.40C695.42,454.40,691.14,453.77,686.86,452.50C682.59,451.23,678.31,447.18,674.03,445.00C669.75,442.82,665.47,439.40,661.20,439.40C656.92,439.40,652.64,442.72,648.36,445.00C644.08,447.28,639.81,448.52,635.53,453.10C631.25,457.68,626.97,466.13,622.69,472.50C618.42,478.87,614.14,484.22,609.86,491.30C605.58,498.38,601.30,509.17,597.03,515.00C592.75,520.83,588.47,524.63,584.19,526.30C579.91,527.97,575.64,528.08,571.36,528.80C567.08,529.52,562.80,530.60,558.52,530.60C554.25,530.60,549.97,525.60,545.69,525.60C541.41,525.60,537.13,535.00,532.86,535.00C528.58,535.00,524.30,530.00,520.02,530.00C515.74,530.00,511.47,540.05,507.19,543.80C502.91,547.55,498.63,552.10,494.35,552.50C490.08,552.90,485.80,553.10,481.52,553.10C477.24,553.10,472.96,540.38,468.69,535.60C464.41,530.82,460.13,529.18,455.85,524.40C451.57,519.62,447.30,512.63,443.02,506.90C438.74,501.17,434.46,495.48,430.18,490.00C425.91,484.52,421.63,477.83,417.35,474.00C413.07,470.17,408.79,467.00,404.52,467.00C400.24,467.00,395.96,470.10,391.68,470.10C387.40,470.10,383.13,468.95,378.85,467.60C374.57,466.25,370.29,463.88,366.01,462.00C361.74,460.12,357.46,457.88,353.18,456.30C348.90,454.72,344.62,452.50,340.35,452.50C336.07,452.50,331.79,452.50,327.51,452.50C323.23,452.50,318.96,449.58,314.68,448.00C310.40,446.42,306.12,444.62,301.84,443.00C297.57,441.38,293.29,438.30,289.01,438.30C284.73,438.30,280.45,448.28,276.18,451.90C271.90,455.52,267.62,457.50,263.34,460.00C259.06,462.50,254.79,466.10,250.51,466.90C246.23,467.70,241.95,467.30,237.67,468.10C233.40,468.90,229.12,477.37,224.84,480.60C220.56,483.83,216.28,487.50,212.01,487.50C207.73,487.50,203.45,476.55,199.17,469.00C194.89,461.45,190.62,450.57,186.34,442.20C182.06,433.83,177.78,425.83,173.50,418.80C169.23,411.77,164.95,404.70,160.67,400.00C156.39,395.30,152.11,393.88,147.84,390.60C143.56,387.32,139.28,383.77,135.00,380.30C130.72,376.83,126.45,372.63,122.17,369.80C117.89,366.97,113.61,364.98,109.33,363.30C105.06,361.62,100.78,360.95,96.50,359.70C92.22,358.45,87.94,357.15,83.67,355.80C79.39,354.45,75.11,352.82,70.83,351.60C66.55,350.38,62.28,349.27,58.00,348.50C53.72,347.73,49.44,347.33,45.16,347.00C40.89,346.67,36.61,346.58,32.33,346.50Z" fill="#419469"/>
<path d="M32.33,346.50C36.61,346.62,40.89,346.73,45.16,347.00C49.44,347.27,53.72,347.83,58.00,348.10C62.28,348.38,66.55,348.52,70.83,348.65C75.11,348.78,79.39,348.76,83.67,348.90C87.94,349.04,92.22,349.22,96.50,349.50C100.78,349.78,105.06,350.33,109.33,350.60C113.61,350.88,117.89,350.78,122.17,351.15C126.45,351.52,130.72,353.80,135.00,353.80C139.28,353.80,143.56,353.80,147.84,353.80C152.11,353.80,156.39,354.80,160.67,356.10C164.95,357.40,169.23,361.60,173.50,361.60C177.78,361.60,182.06,360.97,186.34,359.70C190.62,358.43,194.89,351.30,199.17,351.30C203.45,351.30,207.73,351.50,212.01,351.90C216.28,352.30,220.56,359.10,224.84,359.10C229.12,359.10,233.40,354.00,237.67,354.00C241.95,354.00,246.23,355.10,250.51,355.10C254.79,355.10,259.06,348.67,263.34,347.60C267.62,346.53,271.90,346.20,276.18,346.00C280.45,345.80,284.73,345.70,289.01,345.70C293.29,345.70,297.57,350.12,301.84,352.00C306.12,353.88,310.40,355.45,314.68,357.00C318.96,358.55,323.23,360.27,327.51,361.30C331.79,362.33,336.07,362.12,340.35,363.20C344.62,364.28,348.90,367.80,353.18,367.80C357.46,367.80,361.74,367.70,366.01,367.70C370.29,367.70,374.57,370.27,378.85,371.20C383.13,372.13,387.40,372.60,391.68,373.30C395.96,374.00,400.24,374.38,404.52,375.40C408.79,376.42,413.07,378.00,417.35,379.40C421.63,380.80,425.91,380.87,430.18,383.80C434.46,386.73,438.74,392.93,443.02,397.20C447.30,401.47,451.57,405.60,455.85,409.40C460.13,413.20,464.41,416.98,468.69,420.00C472.96,423.02,477.24,427.50,481.52,427.50C485.80,427.50,490.08,420.58,494.35,415.70C498.63,410.82,502.91,399.87,507.19,398.20C511.47,396.53,515.74,397.37,520.02,395.70C524.30,394.03,528.58,375.37,532.86,372.50C537.13,369.63,541.41,369.28,545.69,368.20C549.97,367.12,554.25,367.15,558.52,366.00C562.80,364.85,567.08,361.30,571.36,361.30C575.64,361.30,579.91,361.50,584.19,361.50C588.47,361.50,592.75,361.00,597.03,361.00C601.30,361.00,605.58,364.70,609.86,364.70C614.14,364.70,618.42,362.20,622.69,360.30C626.97,358.40,631.25,353.30,635.53,353.30C639.81,353.30,644.08,353.90,648.36,353.90C652.64,353.90,656.92,353.70,661.20,353.30C665.47,352.90,669.75,347.50,674.03,345.20C678.31,342.90,682.59,339.90,686.86,339.50C691.14,339.10,695.42,338.90,699.70,338.90C703.98,338.90,708.25,342.67,712.53,344.50C716.81,346.33,721.09,349.90,725.37,349.90C729.64,349.90,733.92,343.48,738.20,340.40C742.48,337.32,746.76,331.40,751.03,331.40C755.31,331.40,759.59,337.83,763.87,339.10C768.15,340.37,772.42,341.00,776.70,341.00C780.98,341.00,785.26,340.50,789.54,340.50C793.81,340.50,798.09,341.17,802.37,342.50C806.65,343.83,810.93,356.90,815.20,357.90C819.48,358.90,823.76,358.40,828.04,359.40C832.32,360.40,836.59,366.60,840.87,371.80C845.15,377.00,849.43,383.60,853.71,390.60C857.98,397.60,862.26,410.80,866.54,413.80C870.82,416.80,875.10,416.65,879.37,418.30C883.65,419.95,887.93,421.97,892.21,423.70C896.49,425.43,900.76,428.43,905.04,428.70C909.32,428.97,913.60,429.10,917.88,429.10C922.15,429.10,926.43,412.40,930.71,412.40C934.99,412.40,939.27,412.82,943.54,413.10C947.82,413.38,952.10,413.43,956.38,414.10C960.66,414.77,964.93,426.20,969.21,427.40C973.49,428.60,977.77,429.13,982.05,429.20C986.32,429.27,990.60,429.28,994.88,429.30L994.88,488.10C990.60,498.30,986.32,508.50,982.05,508.50C977.77,508.50,973.49,507.40,969.21,507.40C964.93,507.40,960.66,519.75,956.38,524.20C952.10,528.65,947.82,534.10,943.54,534.10C939.27,534.10,934.99,529.87,930.71,526.40C926.43,522.93,922.15,513.30,917.88,513.30C913.60,513.30,909.32,522.70,905.04,522.70C900.76,522.70,896.49,521.50,892.21,519.20C887.93,516.90,883.65,509.30,879.37,508.90C875.10,508.50,870.82,508.70,866.54,508.30C862.26,507.90,857.98,503.30,853.71,498.00C849.43,492.70,845.15,481.35,840.87,476.50C836.59,471.65,832.32,471.03,828.04,468.90C823.76,466.77,819.48,463.70,815.20,463.70C810.93,463.70,806.65,470.60,802.37,470.60C798.09,470.60,793.81,467.22,789.54,464.00C785.26,460.78,780.98,451.30,776.70,451.30C772.42,451.30,768.15,452.38,763.87,453.10C759.59,453.82,755.31,455.60,751.03,455.60C746.76,455.60,742.48,454.37,738.20,451.90C733.92,449.43,729.64,440.60,725.37,440.60C721.09,440.60,716.81,446.50,712.53,448.80C708.25,451.10,703.98,454.40,699.70,454.40C695.42,454.40,691.14,453.77,686.86,452.50C682.59,451.23,678.31,447.18,674.03,445.00C669.75,442.82,665.47,439.40,661.20,439.40C656.92,439.40,652.64,442.72,648.36,445.00C644.08,447.28,639.81,448.52,635.53,453.10C631.25,457.68,626.97,466.13,622.69,472.50C618.42,478.87,614.14,484.22,609.86,491.30C605.58,498.38,601.30,509.17,597.03,515.00C592.75,520.83,588.47,524.63,584.19,526.30C579.91,527.97,575.64,528.08,571.36,528.80C567.08,529.52,562.80,530.60,558.52,530.60C554.25,530.60,549.97,525.60,545.69,525.60C541.41,525.60,537.13,535.00,532.86,535.00C528.58,535.00,524.30,530.00,520.02,530.00C515.74,530.00,511.47,540.05,507.19,543.80C502.91,547.55,498.63,552.10,494.35,552.50C490.08,552.90,485.80,553.10,481.52,553.10C477.24,553.10,472.96,540.38,468.69,535.60C464.41,530.82,460.13,529.18,455.85,524.40C451.57,519.62,447.30,512.63,443.02,506.90C438.74,501.17,434.46,495.48,430.18,490.00C425.91,484.52,421.63,477.83,417.35,474.00C413.07,470.17,408.79,467.00,404.52,467.00C400.24,467.00,395.96,470.10,391.68,470.10C387.40,470.10,383.13,468.95,378.85,467.60C374.57,466.25,370.29,463.88,366.01,462.00C361.74,460.12,357.46,457.88,353.18,456.30C348.90,454.72,344.62,452.50,340.35,452.50C336.07,452.50,331.79,452.50,327.51,452.50C323.23,452.50,318.96,449.58,314.68,448.00C310.40,446.42,306.12,444.62,301.84,443.00C297.57,441.38,293.29,438.30,289.01,438.30C284.73,438.30,280.45,448.28,276.18,451.90C271.90,455.52,267.62,457.50,263.34,460.00C259.06,462.50,254.79,466.10,250.51,466.90C246.23,467.70,241.95,467.30,237.67,468.10C233.40,468.90,229.12,477.37,224.84,480.60C220.56,483.83,216.28,487.50,212.01,487.50C207.73,487.50,203.45,476.55,199.17,469.00C194.89,461.45,190.62,450.57,186.34,442.20C182.06,433.83,177.78,425.83,173.50,418.80C169.23,411.77,164.95,404.70,160.67,400.00C156.39,395.30,152.11,393.88,147.84,390.60C143.56,387.32,139.28,383.77,135.00,380.30C130.72,376.83,126.45,372.63,122.17,369.80C117.89,366.97,113.61,364.98,109.33,363.30C105.06,361.62,100.78,360.95,96.50,359.70C92.22,358.45,87.94,357.15,83.67,355.80C79.39,354.45,75.11,352.82,70.83,351.60C66.55,350.38,62.28,349.27,58.00,348.50C53.72,347.73,49.44,347.33,45.16,347.00C40.89,346.67,36.61,346.58,32.33,346.50Z" fill="#6a5aa0"/>
<path d="M32.33,346.50C36.61,346.61,40.89,346.72,45.16,347.00C49.44,347.28,53.72,347.91,58.00,348.20C62.28,348.49,66.55,348.62,70.83,348.75C75.11,348.88,79.39,348.86,83.67,349.00C87.94,349.14,92.22,349.32,96.50,349.60C100.78,349.88,105.06,350.43,109.33,350.70C113.61,350.98,117.89,350.88,122.17,351.25C126.45,351.62,130.72,353.90,135.00,353.90C139.28,353.90,143.56,353.90,147.84,353.90C152.11,353.90,156.39,354.90,160.67,356.20C164.95,357.50,169.23,361.70,173.50,361.70C177.78,361.70,182.06,361.07,186.34,359.80C190.62,358.53,194.89,351.35,199.17,351.35C203.45,351.35,207.73,351.73,212.01,352.50C216.28,353.27,220.56,361.30,224.84,361.30C229.12,361.30,233.40,355.60,237.67,355.60C241.95,355.60,246.23,356.90,250.51,356.90C254.79,356.90,259.06,350.80,263.34,350.00C267.62,349.20,271.90,348.80,276.18,348.80C280.45,348.80,284.73,348.80,289.01,348.80C293.29,348.80,297.57,352.63,301.84,354.40C306.12,356.17,310.40,357.73,314.68,359.40C318.96,361.07,323.23,363.25,327.51,364.40C331.79,365.55,336.07,365.27,340.35,366.30C344.62,367.33,348.90,369.73,353.18,370.60C357.46,371.47,361.74,371.27,366.01,371.90C370.29,372.53,374.57,373.57,378.85,374.40C383.13,375.23,387.40,376.28,391.68,376.90C395.96,377.52,400.24,377.30,404.52,378.10C408.79,378.90,413.07,380.83,417.35,382.50C421.63,384.17,425.91,384.87,430.18,388.10C434.46,391.33,438.74,397.58,443.02,401.90C447.30,406.22,451.57,410.05,455.85,414.00C460.13,417.95,464.41,422.10,468.69,425.60C472.96,429.10,477.24,435.00,481.52,435.00C485.80,435.00,490.08,428.30,494.35,423.10C498.63,417.90,502.91,405.47,507.19,403.80C511.47,402.13,515.74,402.97,520.02,401.30C524.30,399.63,528.58,378.77,532.86,376.90C537.13,375.03,541.41,374.93,545.69,374.10C549.97,373.27,554.25,373.00,558.52,371.90C562.80,370.80,567.08,367.50,571.36,367.50C575.64,367.50,579.91,368.10,584.19,368.10C588.47,368.10,592.75,366.90,597.03,366.90C601.30,366.90,605.58,370.00,609.86,370.00C614.14,370.00,618.42,366.70,622.69,364.70C626.97,362.70,631.25,358.00,635.53,358.00C639.81,358.00,644.08,358.10,648.36,358.10C652.64,358.10,656.92,357.70,661.20,356.90C665.47,356.10,669.75,350.55,674.03,348.10C678.31,345.65,682.59,342.73,686.86,342.20C691.14,341.67,695.42,341.40,699.70,341.40C703.98,341.40,708.25,344.88,712.53,346.30C716.81,347.73,721.09,349.95,725.37,349.95C729.64,349.95,733.92,343.58,738.20,340.50C742.48,337.43,746.76,331.50,751.03,331.50C755.31,331.50,759.59,337.93,763.87,339.20C768.15,340.47,772.42,341.10,776.70,341.10C780.98,341.10,785.26,340.60,789.54,340.60C793.81,340.60,798.09,341.27,802.37,342.60C806.65,343.93,810.93,357.00,815.20,358.00C819.48,359.00,823.76,358.50,828.04,359.50C832.32,360.50,836.59,366.70,840.87,371.90C845.15,377.10,849.43,383.70,853.71,390.70C857.98,397.70,862.26,410.90,866.54,413.90C870.82,416.90,875.10,416.75,879.37,418.40C883.65,420.05,887.93,422.07,892.21,423.80C896.49,425.53,900.76,428.53,905.04,428.80C909.32,429.07,913.60,429.20,917.88,429.20C922.15,429.20,926.43,412.50,930.71,412.50C934.99,412.50,939.27,412.92,943.54,413.20C947.82,413.48,952.10,413.53,956.38,414.20C960.66,414.87,964.93,426.30,969.21,427.50C973.49,428.70,977.77,429.23,982.05,429.30C986.32,429.37,990.60,429.38,994.88,429.40L994.88,488.10C990.60,498.30,986.32,508.50,982.05,508.50C977.77,508.50,973.49,507.40,969.21,507.40C964.93,507.40,960.66,519.75,956.38,524.20C952.10,528.65,947.82,534.10,943.54,534.10C939.27,534.10,934.99,529.87,930.71,526.40C926.43,522.93,922.15,513.30,917.88,513.30C913.60,513.30,909.32,522.70,905.04,522.70C900.76,522.70,896.49,521.50,892.21,519.20C887.93,516.90,883.65,509.30,879.37,508.90C875.10,508.50,870.82,508.70,866.54,508.30C862.26,507.90,857.98,503.30,853.71,498.00C849.43,492.70,845.15,481.35,840.87,476.50C836.59,471.65,832.32,471.03,828.04,468.90C823.76,466.77,819.48,463.70,815.20,463.70C810.93,463.70,806.65,470.60,802.37,470.60C798.09,470.60,793.81,467.22,789.54,464.00C785.26,460.78,780.98,451.30,776.70,451.30C772.42,451.30,768.15,452.38,763.87,453.10C759.59,453.82,755.31,455.60,751.03,455.60C746.76,455.60,742.48,454.37,738.20,451.90C733.92,449.43,729.64,440.60,725.37,440.60C721.09,440.60,716.81,446.50,712.53,448.80C708.25,451.10,703.98,454.40,699.70,454.40C695.42,454.40,691.14,453.77,686.86,452.50C682.59,451.23,678.31,447.18,674.03,445.00C669.75,442.82,665.47,439.40,661.20,439.40C656.92,439.40,652.64,442.72,648.36,445.00C644.08,447.28,639.81,448.52,635.53,453.10C631.25,457.68,626.97,466.13,622.69,472.50C618.42,478.87,614.14,484.22,609.86,491.30C605.58,498.38,601.30,509.17,597.03,515.00C592.75,520.83,588.47,524.63,584.19,526.30C579.91,527.97,575.64,528.08,571.36,528.80C567.08,529.52,562.80,530.60,558.52,530.60C554.25,530.60,549.97,525.60,545.69,525.60C541.41,525.60,537.13,535.00,532.86,535.00C528.58,535.00,524.30,530.00,520.02,530.00C515.74,530.00,511.47,540.05,507.19,543.80C502.91,547.55,498.63,552.10,494.35,552.50C490.08,552.90,485.80,553.10,481.52,553.10C477.24,553.10,472.96,540.38,468.69,535.60C464.41,530.82,460.13,529.18,455.85,524.40C451.57,519.62,447.30,512.63,443.02,506.90C438.74,501.17,434.46,495.48,430.18,490.00C425.91,484.52,421.63,477.83,417.35,474.00C413.07,470.17,408.79,467.00,404.52,467.00C400.24,467.00,395.96,470.10,391.68,470.10C387.40,470.10,383.13,468.95,378.85,467.60C374.57,466.25,370.29,463.88,366.01,462.00C361.74,460.12,357.46,457.88,353.18,456.30C348.90,454.72,344.62,452.50,340.35,452.50C336.07,452.50,331.79,452.50,327.51,452.50C323.23,452.50,318.96,449.58,314.68,448.00C310.40,446.42,306.12,444.62,301.84,443.00C297.57,441.38,293.29,438.30,289.01,438.30C284.73,438.30,280.45,448.28,276.18,451.90C271.90,455.52,267.62,457.50,263.34,460.00C259.06,462.50,254.79,466.10,250.51,466.90C246.23,467.70,241.95,467.30,237.67,468.10C233.40,468.90,229.12,477.37,224.84,480.60C220.56,483.83,216.28,487.50,212.01,487.50C207.73,487.50,203.45,476.55,199.17,469.00C194.89,461.45,190.62,450.57,186.34,442.20C182.06,433.83,177.78,425.83,173.50,418.80C169.23,411.77,164.95,404.70,160.67,400.00C156.39,395.30,152.11,393.88,147.84,390.60C143.56,387.32,139.28,383.77,135.00,380.30C130.72,376.83,126.45,372.63,122.17,369.80C117.89,366.97,113.61,364.98,109.33,363.30C105.06,361.62,100.78,360.95,96.50,359.70C92.22,358.45,87.94,357.15,83.67,355.80C79.39,354.45,75.11,352.82,70.83,351.60C66.55,350.38,62.28,349.27,58.00,348.50C53.72,347.73,49.44,347.33,45.16,347.00C40.89,346.67,36.61,346.58,32.33,346.50Z" fill="#d98e43"/>
<path d="M32.33,346.50C36.61,346.60,40.89,346.71,45.16,347.00C49.44,347.29,53.72,347.95,58.00,348.25C62.28,348.55,66.55,348.67,70.83,348.80C75.11,348.93,79.39,348.91,83.67,349.05C87.94,349.19,92.22,349.37,96.50,349.65C100.78,349.93,105.06,350.48,109.33,350.75C113.61,351.03,117.89,350.93,122.17,351.30C126.45,351.67,130.72,353.95,135.00,353.95C139.28,353.95,143.56,353.95,147.84,353.95C152.11,353.95,156.39,354.95,160.67,356.25C164.95,357.55,169.23,361.75,173.50,361.75C177.78,361.75,182.06,360.98,186.34,359.85C190.62,358.73,194.89,355.00,199.17,355.00C203.45,355.00,207.73,355.83,212.01,357.50C216.28,359.17,220.56,366.00,224.84,366.00C229.12,366.00,233.40,362.50,237.67,362.50C241.95,362.50,246.23,363.10,250.51,363.10C254.79,363.10,259.06,357.57,263.34,356.30C267.62,355.03,271.90,354.40,276.18,354.40C280.45,354.40,284.73,354.53,289.01,354.80C293.29,355.07,297.57,360.20,301.84,361.90C306.12,363.60,310.40,363.33,314.68,365.00C318.96,366.67,323.23,371.10,327.51,371.90C331.79,372.70,336.07,372.30,340.35,373.10C344.62,373.90,348.90,376.43,353.18,377.80C357.46,379.17,361.74,380.20,366.01,381.30C370.29,382.40,374.57,383.37,378.85,384.40C383.13,385.43,387.40,386.77,391.68,387.50C395.96,388.23,400.24,387.93,404.52,388.80C408.79,389.67,413.07,391.33,417.35,393.10C421.63,394.87,425.91,396.33,430.18,399.40C434.46,402.47,438.74,407.23,443.02,411.50C447.30,415.77,451.57,420.35,455.85,425.00C460.13,429.65,464.41,435.02,468.69,439.40C472.96,443.78,477.24,451.30,481.52,451.30C485.80,451.30,490.08,444.30,494.35,439.40C498.63,434.50,502.91,422.30,507.19,421.90C511.47,421.50,515.74,421.70,520.02,421.30C524.30,420.90,528.58,398.17,532.86,396.30C537.13,394.43,541.41,394.30,545.69,393.50C549.97,392.70,554.25,392.50,558.52,391.50C562.80,390.50,567.08,387.50,571.36,387.50C575.64,387.50,579.91,388.10,584.19,388.10C588.47,388.10,592.75,386.30,597.03,386.30C601.30,386.30,605.58,387.20,609.86,387.20C614.14,387.20,618.42,382.70,622.69,380.00C626.97,377.30,631.25,372.93,635.53,371.00C639.81,369.07,644.08,369.27,648.36,368.10C652.64,366.93,656.92,366.28,661.20,364.00C665.47,361.72,669.75,357.32,674.03,354.40C678.31,351.48,682.59,347.57,686.86,346.50C691.14,345.43,695.42,344.90,699.70,344.90C703.98,344.90,708.25,347.85,712.53,348.80C716.81,349.75,721.09,350.60,725.37,350.60C729.64,350.60,733.92,343.77,738.20,340.60C742.48,337.43,746.76,331.60,751.03,331.60C755.31,331.60,759.59,338.03,763.87,339.30C768.15,340.57,772.42,341.20,776.70,341.20C780.98,341.20,785.26,340.70,789.54,340.70C793.81,340.70,798.09,341.37,802.37,342.70C806.65,344.03,810.93,357.10,815.20,358.10C819.48,359.10,823.76,358.60,828.04,359.60C832.32,360.60,836.59,366.80,840.87,372.00C845.15,377.20,849.43,383.80,853.71,390.80C857.98,397.80,862.26,411.00,866.54,414.00C870.82,417.00,875.10,416.85,879.37,418.50C883.65,420.15,887.93,422.17,892.21,423.90C896.49,425.63,900.76,428.63,905.04,428.90C909.32,429.17,913.60,429.30,917.88,429.30C922.15,429.30,926.43,412.60,930.71,412.60C934.99,412.60,939.27,413.02,943.54,413.30C947.82,413.58,952.10,413.63,956.38,414.30C960.66,414.97,964.93,426.40,969.21,427.60C973.49,428.80,977.77,429.33,982.05,429.40C986.32,429.47,990.60,429.48,994.88,429.50L994.88,488.10C990.60,498.30,986.32,508.50,982.05,508.50C977.77,508.50,973.49,507.40,969.21,507.40C964.93,507.40,960.66,519.75,956.38,524.20C952.10,528.65,947.82,534.10,943.54,534.10C939.27,534.10,934.99,529.87,930.71,526.40C926.43,522.93,922.15,513.30,917.88,513.30C913.60,513.30,909.32,522.70,905.04,522.70C900.76,522.70,896.49,521.50,892.21,519.20C887.93,516.90,883.65,509.30,879.37,508.90C875.10,508.50,870.82,508.70,866.54,508.30C862.26,507.90,857.98,503.30,853.71,498.00C849.43,492.70,845.15,481.35,840.87,476.50C836.59,471.65,832.32,471.03,828.04,468.90C823.76,466.77,819.48,463.70,815.20,463.70C810.93,463.70,806.65,470.60,802.37,470.60C798.09,470.60,793.81,467.22,789.54,464.00C785.26,460.78,780.98,451.30,776.70,451.30C772.42,451.30,768.15,452.38,763.87,453.10C759.59,453.82,755.31,455.60,751.03,455.60C746.76,455.60,742.48,454.37,738.20,451.90C733.92,449.43,729.64,440.60,725.37,440.60C721.09,440.60,716.81,446.50,712.53,448.80C708.25,451.10,703.98,454.40,699.70,454.40C695.42,454.40,691.14,453.77,686.86,452.50C682.59,451.23,678.31,447.18,674.03,445.00C669.75,442.82,665.47,439.40,661.20,439.40C656.92,439.40,652.64,442.72,648.36,445.00C644.08,447.28,639.81,448.52,635.53,453.10C631.25,457.68,626.97,466.13,622.69,472.50C618.42,478.87,614.14,484.22,609.86,491.30C605.58,498.38,601.30,509.17,597.03,515.00C592.75,520.83,588.47,524.63,584.19,526.30C579.91,527.97,575.64,528.08,571.36,528.80C567.08,529.52,562.80,530.60,558.52,530.60C554.25,530.60,549.97,525.60,545.69,525.60C541.41,525.60,537.13,535.00,532.86,535.00C528.58,535.00,524.30,530.00,520.02,530.00C515.74,530.00,511.47,540.05,507.19,543.80C502.91,547.55,498.63,552.10,494.35,552.50C490.08,552.90,485.80,553.10,481.52,553.10C477.24,553.10,472.96,540.38,468.69,535.60C464.41,530.82,460.13,529.18,455.85,524.40C451.57,519.62,447.30,512.63,443.02,506.90C438.74,501.17,434.46,495.48,430.18,490.00C425.91,484.52,421.63,477.83,417.35,474.00C413.07,470.17,408.79,467.00,404.52,467.00C400.24,467.00,395.96,470.10,391.68,470.10C387.40,470.10,383.13,468.95,378.85,467.60C374.57,466.25,370.29,463.88,366.01,462.00C361.74,460.12,357.46,457.88,353.18,456.30C348.90,454.72,344.62,452.50,340.35,452.50C336.07,452.50,331.79,452.50,327.51,452.50C323.23,452.50,318.96,449.58,314.68,448.00C310.40,446.42,306.12,444.62,301.84,443.00C297.57,441.38,293.29,438.30,289.01,438.30C284.73,438.30,280.45,448.28,276.18,451.90C271.90,455.52,267.62,457.50,263.34,460.00C259.06,462.50,254.79,466.10,250.51,466.90C246.23,467.70,241.95,467.30,237.67,468.10C233.40,468.90,229.12,477.37,224.84,480.60C220.56,483.83,216.28,487.50,212.01,487.50C207.73,487.50,203.45,476.55,199.17,469.00C194.89,461.45,190.62,450.57,186.34,442.20C182.06,433.83,177.78,425.83,173.50,418.80C169.23,411.77,164.95,404.70,160.67,400.00C156.39,395.30,152.11,393.88,147.84,390.60C143.56,387.32,139.28,383.77,135.00,380.30C130.72,376.83,126.45,372.63,122.17,369.80C117.89,366.97,113.61,364.98,109.33,363.30C105.06,361.62,100.78,360.95,96.50,359.70C92.22,358.45,87.94,357.15,83.67,355.80C79.39,354.45,75.11,352.82,70.83,351.60C66.55,350.38,62.28,349.27,58.00,348.50C53.72,347.73,49.44,347.33,45.16,347.00C40.89,346.67,36.61,346.58,32.33,346.50Z" fill="#69acaa"/>
<path d="M32.33,346.50C36.61,346.60,40.89,346.70,45.16,347.00C49.44,347.30,53.72,347.97,58.00,348.30C62.28,348.63,66.55,348.53,70.83,349.00C75.11,349.47,79.39,352.02,83.67,353.10C87.94,354.18,92.22,354.63,96.50,355.50C100.78,356.37,105.06,357.18,109.33,358.30C113.61,359.42,117.89,360.32,122.17,362.20C126.45,364.08,130.72,367.37,135.00,369.60C139.28,371.83,143.56,373.62,147.84,375.60C152.11,377.58,156.39,379.00,160.67,381.50C164.95,384.00,169.23,390.60,173.50,390.60C177.78,390.60,182.06,390.60,186.34,390.60C190.62,390.60,194.89,386.30,199.17,386.30C203.45,386.30,207.73,387.97,212.01,390.00C216.28,392.03,220.56,398.50,224.84,398.50C229.12,398.50,233.40,398.50,237.67,398.50C241.95,398.50,246.23,402.30,250.51,402.30C254.79,402.30,259.06,396.90,263.34,396.90C267.62,396.90,271.90,396.90,276.18,396.90C280.45,396.90,284.73,397.20,289.01,397.80C293.29,398.40,297.57,402.68,301.84,404.40C306.12,406.12,310.40,406.58,314.68,408.10C318.96,409.62,323.23,413.50,327.51,413.50C331.79,413.50,336.07,412.80,340.35,412.80C344.62,412.80,348.90,415.70,353.18,416.90C357.46,418.10,361.74,418.65,366.01,420.00C370.29,421.35,374.57,423.65,378.85,425.00C383.13,426.35,387.40,427.27,391.68,428.10C395.96,428.93,400.24,428.75,404.52,430.00C408.79,431.25,413.07,433.83,417.35,435.60C421.63,437.37,425.91,437.98,430.18,440.60C434.46,443.22,438.74,447.65,443.02,451.30C447.30,454.95,451.57,458.97,455.85,462.50C460.13,466.03,464.41,469.17,468.69,472.50C472.96,475.83,477.24,482.50,481.52,482.50C485.80,482.50,490.08,474.82,494.35,469.40C498.63,463.98,502.91,450.53,507.19,450.00C511.47,449.47,515.74,449.73,520.02,449.20C524.30,448.67,528.58,426.13,532.86,423.80C537.13,421.47,541.41,421.52,545.69,420.30C549.97,419.08,554.25,417.85,558.52,416.50C562.80,415.15,567.08,412.40,571.36,412.20C575.64,412.00,579.91,412.10,584.19,411.90C588.47,411.70,592.75,409.88,597.03,408.80C601.30,407.72,605.58,407.67,609.86,405.40C614.14,403.13,618.42,389.72,622.69,384.20C626.97,378.68,631.25,374.50,635.53,372.30C639.81,370.10,644.08,370.23,648.36,369.00C652.64,367.77,656.92,367.18,661.20,364.90C665.47,362.62,669.75,358.22,674.03,355.30C678.31,352.38,682.59,348.47,686.86,347.40C691.14,346.33,695.42,345.80,699.70,345.80C703.98,345.80,708.25,348.75,712.53,349.70C716.81,350.65,721.09,351.50,725.37,351.50C729.64,351.50,733.92,344.08,738.20,340.80C742.48,337.52,746.76,331.80,751.03,331.80C755.31,331.80,759.59,338.23,763.87,339.50C768.15,340.77,772.42,341.40,776.70,341.40C780.98,341.40,785.26,340.90,789.54,340.90C793.81,340.90,798.09,341.57,802.37,342.90C806.65,344.23,810.93,357.30,815.20,358.30C819.48,359.30,823.76,358.80,828.04,359.80C832.32,360.80,836.59,366.92,840.87,372.10C845.15,377.28,849.43,383.90,853.71,390.90C857.98,397.90,862.26,411.10,866.54,414.10C870.82,417.10,875.10,416.95,879.37,418.60C883.65,420.25,887.93,422.27,892.21,424.00C896.49,425.73,900.76,428.73,905.04,429.00C909.32,429.27,913.60,429.40,917.88,429.40C922.15,429.40,926.43,412.70,930.71,412.70C934.99,412.70,939.27,413.12,943.54,413.40C947.82,413.68,952.10,413.73,956.38,414.40C960.66,415.07,964.93,426.50,969.21,427.70C973.49,428.90,977.77,429.43,982.05,429.50C986.32,429.57,990.60,429.58,994.88,429.60L994.88,488.10C990.60,498.30,986.32,508.50,982.05,508.50C977.77,508.50,973.49,507.40,969.21,507.40C964.93,507.40,960.66,519.75,956.38,524.20C952.10,528.65,947.82,534.10,943.54,534.10C939.27,534.10,934.99,529.87,930.71,526.40C926.43,522.93,922.15,513.30,917.88,513.30C913.60,513.30,909.32,522.70,905.04,522.70C900.76,522.70,896.49,521.50,892.21,519.20C887.93,516.90,883.65,509.30,879.37,508.90C875.10,508.50,870.82,508.70,866.54,508.30C862.26,507.90,857.98,503.30,853.71,498.00C849.43,492.70,845.15,481.35,840.87,476.50C836.59,471.65,832.32,471.03,828.04,468.90C823.76,466.77,819.48,463.70,815.20,463.70C810.93,463.70,806.65,470.60,802.37,470.60C798.09,470.60,793.81,467.22,789.54,464.00C785.26,460.78,780.98,451.30,776.70,451.30C772.42,451.30,768.15,452.38,763.87,453.10C759.59,453.82,755.31,455.60,751.03,455.60C746.76,455.60,742.48,454.37,738.20,451.90C733.92,449.43,729.64,440.60,725.37,440.60C721.09,440.60,716.81,446.50,712.53,448.80C708.25,451.10,703.98,454.40,699.70,454.40C695.42,454.40,691.14,453.77,686.86,452.50C682.59,451.23,678.31,447.18,674.03,445.00C669.75,442.82,665.47,439.40,661.20,439.40C656.92,439.40,652.64,442.72,648.36,445.00C644.08,447.28,639.81,448.52,635.53,453.10C631.25,457.68,626.97,466.13,622.69,472.50C618.42,478.87,614.14,484.22,609.86,491.30C605.58,498.38,601.30,509.17,597.03,515.00C592.75,520.83,588.47,524.63,584.19,526.30C579.91,527.97,575.64,528.08,571.36,528.80C567.08,529.52,562.80,530.60,558.52,530.60C554.25,530.60,549.97,525.60,545.69,525.60C541.41,525.60,537.13,535.00,532.86,535.00C528.58,535.00,524.30,530.00,520.02,530.00C515.74,530.00,511.47,540.05,507.19,543.80C502.91,547.55,498.63,552.10,494.35,552.50C490.08,552.90,485.80,553.10,481.52,553.10C477.24,553.10,472.96,540.38,468.69,535.60C464.41,530.82,460.13,529.18,455.85,524.40C451.57,519.62,447.30,512.63,443.02,506.90C438.74,501.17,434.46,495.48,430.18,490.00C425.91,484.52,421.63,477.83,417.35,474.00C413.07,470.17,408.79,467.00,404.52,467.00C400.24,467.00,395.96,470.10,391.68,470.10C387.40,470.10,383.13,468.95,378.85,467.60C374.57,466.25,370.29,463.88,366.01,462.00C361.74,460.12,357.46,457.88,353.18,456.30C348.90,454.72,344.62,452.50,340.35,452.50C336.07,452.50,331.79,452.50,327.51,452.50C323.23,452.50,318.96,449.58,314.68,448.00C310.40,446.42,306.12,444.62,301.84,443.00C297.57,441.38,293.29,438.30,289.01,438.30C284.73,438.30,280.45,448.28,276.18,451.90C271.90,455.52,267.62,457.50,263.34,460.00C259.06,462.50,254.79,466.10,250.51,466.90C246.23,467.70,241.95,467.30,237.67,468.10C233.40,468.90,229.12,477.37,224.84,480.60C220.56,483.83,216.28,487.50,212.01,487.50C207.73,487.50,203.45,476.55,199.17,469.00C194.89,461.45,190.62,450.57,186.34,442.20C182.06,433.83,177.78,425.83,173.50,418.80C169.23,411.77,164.95,404.70,160.67,400.00C156.39,395.30,152.11,393.88,147.84,390.60C143.56,387.32,139.28,383.77,135.00,380.30C130.72,376.83,126.45,372.63,122.17,369.80C117.89,366.97,113.61,364.98,109.33,363.30C105.06,361.62,100.78,360.95,96.50,359.70C92.22,358.45,87.94,357.15,83.67,355.80C79.39,354.45,75.11,352.82,70.83,351.60C66.55,350.38,62.28,349.27,58.00,348.50C53.72,347.73,49.44,347.33,45.16,347.00C40.89,346.67,36.61,346.58,32.33,346.50Z" fill="#944d79"/>
<path d="M32.33,346.50C36.61,346.60,40.89,346.69,45.16,347.00C49.44,347.31,53.72,347.85,58.00,348.35C62.28,348.85,66.55,348.99,70.83,350.00C75.11,351.01,79.39,353.20,83.67,354.40C87.94,355.60,92.22,356.13,96.50,357.20C100.78,358.27,105.06,359.23,109.33,360.80C113.61,362.37,117.89,363.98,122.17,366.60C126.45,369.22,130.72,373.57,135.00,376.50C139.28,379.43,143.56,381.32,147.84,384.20C152.11,387.08,156.39,390.23,160.67,393.80C164.95,397.37,169.23,404.73,173.50,405.60C177.78,406.47,182.06,406.90,186.34,406.90C190.62,406.90,194.89,403.80,199.17,403.80C203.45,403.80,207.73,405.40,212.01,407.50C216.28,409.60,220.56,416.40,224.84,416.40C229.12,416.40,233.40,415.20,237.67,415.20C241.95,415.20,246.23,419.40,250.51,419.40C254.79,419.40,259.06,414.13,263.34,414.00C267.62,413.87,271.90,413.80,276.18,413.80C280.45,413.80,284.73,414.00,289.01,414.40C293.29,414.80,297.57,419.53,301.84,421.30C306.12,423.07,310.40,423.65,314.68,425.00C318.96,426.35,323.23,429.40,327.51,429.40C331.79,429.40,336.07,428.80,340.35,428.80C344.62,428.80,348.90,430.90,353.18,431.90C357.46,432.90,361.74,433.45,366.01,434.80C370.29,436.15,374.57,438.50,378.85,440.00C383.13,441.50,387.40,443.80,391.68,443.80C395.96,443.80,400.24,443.80,404.52,443.80C408.79,443.80,413.07,447.53,417.35,449.40C421.63,451.27,425.91,452.23,430.18,455.00C434.46,457.77,438.74,462.25,443.02,466.00C447.30,469.75,451.57,474.02,455.85,477.50C460.13,480.98,464.41,483.57,468.69,486.90C472.96,490.23,477.24,497.50,481.52,497.50C485.80,497.50,490.08,489.22,494.35,483.80C498.63,478.38,502.91,465.80,507.19,465.00C511.47,464.20,515.74,464.60,520.02,463.80C524.30,463.00,528.58,441.27,532.86,439.00C537.13,436.73,541.41,436.90,545.69,435.60C549.97,434.30,554.25,432.55,558.52,431.20C562.80,429.85,567.08,427.90,571.36,427.50C575.64,427.10,579.91,427.30,584.19,426.90C588.47,426.50,592.75,424.55,597.03,423.10C601.30,421.65,605.58,421.47,609.86,418.20C614.14,414.93,618.42,403.87,622.69,397.50C626.97,391.13,631.25,383.73,635.53,380.00C639.81,376.27,644.08,376.60,648.36,374.40C652.64,372.20,656.92,369.72,661.20,366.80C665.47,363.88,669.75,359.65,674.03,356.90C678.31,354.15,682.59,351.63,686.86,350.30C691.14,348.97,695.42,348.30,699.70,348.30C703.98,348.30,708.25,351.38,712.53,352.40C716.81,353.42,721.09,354.40,725.37,354.40C729.64,354.40,733.92,345.98,738.20,342.50C742.48,339.02,746.76,333.50,751.03,333.50C755.31,333.50,759.59,339.47,763.87,340.60C768.15,341.73,772.42,342.30,776.70,342.30C780.98,342.30,785.26,341.30,789.54,341.30C793.81,341.30,798.09,342.03,802.37,343.50C806.65,344.97,810.93,357.40,815.20,358.40C819.48,359.40,823.76,358.90,828.04,359.90C832.32,360.90,836.59,367.06,840.87,372.25C845.15,377.44,849.43,384.05,853.71,391.05C857.98,398.05,862.26,411.25,866.54,414.25C870.82,417.25,875.10,417.10,879.37,418.75C883.65,420.40,887.93,422.42,892.21,424.15C896.49,425.88,900.76,428.88,905.04,429.15C909.32,429.42,913.60,429.55,917.88,429.55C922.15,429.55,926.43,412.85,930.71,412.85C934.99,412.85,939.27,413.27,943.54,413.55C947.82,413.83,952.10,413.88,956.38,414.55C960.66,415.22,964.93,426.65,969.21,427.85C973.49,429.05,977.77,429.58,982.05,429.65C986.32,429.72,990.60,429.73,994.88,429.75L994.88,488.10C990.60,498.30,986.32,508.50,982.05,508.50C977.77,508.50,973.49,507.40,969.21,507.40C964.93,507.40,960.66,519.75,956.38,524.20C952.10,528.65,947.82,534.10,943.54,534.10C939.27,534.10,934.99,529.87,930.71,526.40C926.43,522.93,922.15,513.30,917.88,513.30C913.60,513.30,909.32,522.70,905.04,522.70C900.76,522.70,896.49,521.50,892.21,519.20C887.93,516.90,883.65,509.30,879.37,508.90C875.10,508.50,870.82,508.70,866.54,508.30C862.26,507.90,857.98,503.30,853.71,498.00C849.43,492.70,845.15,481.35,840.87,476.50C836.59,471.65,832.32,471.03,828.04,468.90C823.76,466.77,819.48,463.70,815.20,463.70C810.93,463.70,806.65,470.60,802.37,470.60C798.09,470.60,793.81,467.22,789.54,464.00C785.26,460.78,780.98,451.30,776.70,451.30C772.42,451.30,768.15,452.38,763.87,453.10C759.59,453.82,755.31,455.60,751.03,455.60C746.76,455.60,742.48,454.37,738.20,451.90C733.92,449.43,729.64,440.60,725.37,440.60C721.09,440.60,716.81,446.50,712.53,448.80C708.25,451.10,703.98,454.40,699.70,454.40C695.42,454.40,691.14,453.77,686.86,452.50C682.59,451.23,678.31,447.18,674.03,445.00C669.75,442.82,665.47,439.40,661.20,439.40C656.92,439.40,652.64,442.72,648.36,445.00C644.08,447.28,639.81,448.52,635.53,453.10C631.25,457.68,626.97,466.13,622.69,472.50C618.42,478.87,614.14,484.22,609.86,491.30C605.58,498.38,601.30,509.17,597.03,515.00C592.75,520.83,588.47,524.63,584.19,526.30C579.91,527.97,575.64,528.08,571.36,528.80C567.08,529.52,562.80,530.60,558.52,530.60C554.25,530.60,549.97,525.60,545.69,525.60C541.41,525.60,537.13,535.00,532.86,535.00C528.58,535.00,524.30,530.00,520.02,530.00C515.74,530.00,511.47,540.05,507.19,543.80C502.91,547.55,498.63,552.10,494.35,552.50C490.08,552.90,485.80,553.10,481.52,553.10C477.24,553.10,472.96,540.38,468.69,535.60C464.41,530.82,460.13,529.18,455.85,524.40C451.57,519.62,447.30,512.63,443.02,506.90C438.74,501.17,434.46,495.48,430.18,490.00C425.91,484.52,421.63,477.83,417.35,474.00C413.07,470.17,408.79,467.00,404.52,467.00C400.24,467.00,395.96,470.10,391.68,470.10C387.40,470.10,383.13,468.95,378.85,467.60C374.57,466.25,370.29,463.88,366.01,462.00C361.74,460.12,357.46,457.88,353.18,456.30C348.90,454.72,344.62,452.50,340.35,452.50C336.07,452.50,331.79,452.50,327.51,452.50C323.23,452.50,318.96,449.58,314.68,448.00C310.40,446.42,306.12,444.62,301.84,443.00C297.57,441.38,293.29,438.30,289.01,438.30C284.73,438.30,280.45,448.28,276.18,451.90C271.90,455.52,267.62,457.50,263.34,460.00C259.06,462.50,254.79,466.10,250.51,466.90C246.23,467.70,241.95,467.30,237.67,468.10C233.40,468.90,229.12,477.37,224.84,480.60C220.56,483.83,216.28,487.50,212.01,487.50C207.73,487.50,203.45,476.55,199.17,469.00C194.89,461.45,190.62,450.57,186.34,442.20C182.06,433.83,177.78,425.83,173.50,418.80C169.23,411.77,164.95,404.70,160.67,400.00C156.39,395.30,152.11,393.88,147.84,390.60C143.56,387.32,139.28,383.77,135.00,380.30C130.72,376.83,126.45,372.63,122.17,369.80C117.89,366.97,113.61,364.98,109.33,363.30C105.06,361.62,100.78,360.95,96.50,359.70C92.22,358.45,87.94,357.15,83.67,355.80C79.39,354.45,75.11,352.82,70.83,351.60C66.55,350.38,62.28,349.27,58.00,348.50C53.72,347.73,49.44,347.33,45.16,347.00C40.89,346.67,36.61,346.58,32.33,346.50Z" fill="#8db368"/>
<path d="M32.33,346.50C36.61,346.59,40.89,346.68,45.16,347.00C49.44,347.32,53.72,347.89,58.00,348.40C62.28,348.91,66.55,349.04,70.83,350.05C75.11,351.06,79.39,353.14,83.67,354.45C87.94,355.76,92.22,356.64,96.50,357.90C100.78,359.16,105.06,360.25,109.33,362.00C113.61,363.75,117.89,365.58,122.17,368.40C126.45,371.22,130.72,375.48,135.00,378.90C139.28,382.32,143.56,385.65,147.84,388.90C152.11,392.15,156.39,393.72,160.67,398.40C164.95,403.08,169.23,410.00,173.50,417.00C177.78,424.00,182.06,432.23,186.34,440.40C190.62,448.57,194.89,459.20,199.17,466.00C203.45,472.80,207.73,481.20,212.01,481.20C216.28,481.20,220.56,478.18,224.84,474.70C229.12,471.22,233.40,461.50,237.67,460.30C241.95,459.10,246.23,459.70,250.51,458.50C254.79,457.30,259.06,454.58,263.34,452.80C267.62,451.02,271.90,450.73,276.18,447.80C280.45,444.87,284.73,435.20,289.01,435.20C293.29,435.20,297.57,438.53,301.84,440.20C306.12,441.87,310.40,443.63,314.68,445.20C318.96,446.77,323.23,449.60,327.51,449.60C331.79,449.60,336.07,449.60,340.35,449.60C344.62,449.60,348.90,452.13,353.18,453.80C357.46,455.47,361.74,457.70,366.01,459.60C370.29,461.50,374.57,463.85,378.85,465.20C383.13,466.55,387.40,467.70,391.68,467.70C395.96,467.70,400.24,464.60,404.52,464.60C408.79,464.60,413.07,467.85,417.35,471.50C421.63,475.15,425.91,481.17,430.18,486.50C434.46,491.83,438.74,498.00,443.02,503.50C447.30,509.00,451.57,515.25,455.85,519.50C460.13,523.75,464.41,525.38,468.69,529.00C472.96,532.62,477.24,541.20,481.52,541.20C485.80,541.20,490.08,536.83,494.35,532.30C498.63,527.77,502.91,518.17,507.19,514.00C511.47,509.83,515.74,508.43,520.02,507.30C524.30,506.17,528.58,506.48,532.86,505.60C537.13,504.72,541.41,502.00,545.69,502.00C549.97,502.00,554.25,502.60,558.52,502.80C562.80,503.00,567.08,503.20,571.36,503.20C575.64,503.20,579.91,502.90,584.19,502.30C588.47,501.70,592.75,497.18,597.03,492.00C601.30,486.82,605.58,478.47,609.86,471.20C614.14,463.93,618.42,453.98,622.69,448.40C626.97,442.82,631.25,440.83,635.53,437.70C639.81,434.57,644.08,431.72,648.36,429.60C652.64,427.48,656.92,426.45,661.20,425.00C665.47,423.55,669.75,420.90,674.03,420.90C678.31,420.90,682.59,422.70,686.86,422.70C691.14,422.70,695.42,421.52,699.70,420.90C703.98,420.28,708.25,420.27,712.53,419.00C716.81,417.73,721.09,404.40,725.37,404.40C729.64,404.40,733.92,405.13,738.20,405.90C742.48,406.67,746.76,408.00,751.03,409.00C755.31,410.00,759.59,411.90,763.87,411.90C768.15,411.90,772.42,405.20,776.70,405.20C780.98,405.20,785.26,409.50,789.54,410.90C793.81,412.30,798.09,412.47,802.37,413.60C806.65,414.73,810.93,417.70,815.20,417.70C819.48,417.70,823.76,416.50,828.04,416.50C832.32,416.50,836.59,419.40,840.87,425.20C845.15,431.00,849.43,443.58,853.71,451.50C857.98,459.42,862.26,472.57,866.54,472.70C870.82,472.83,875.10,472.77,879.37,472.90C883.65,473.03,887.93,476.05,892.21,477.90C896.49,479.75,900.76,484.00,905.04,484.00C909.32,484.00,913.60,482.90,917.88,482.90C922.15,482.90,926.43,488.80,930.71,491.00C934.99,493.20,939.27,496.10,943.54,496.10C947.82,496.10,952.10,494.03,956.38,489.90C960.66,485.77,964.93,467.80,969.21,467.80C973.49,467.80,977.77,468.90,982.05,468.90C986.32,468.90,990.60,460.25,994.88,451.60L994.88,488.10C990.60,498.30,986.32,508.50,982.05,508.50C977.77,508.50,973.49,507.40,969.21,507.40C964.93,507.40,960.66,519.75,956.38,524.20C952.10,528.65,947.82,534.10,943.54,534.10C939.27,534.10,934.99,529.87,930.71,526.40C926.43,522.93,922.15,513.30,917.88,513.30C913.60,513.30,909.32,522.70,905.04,522.70C900.76,522.70,896.49,521.50,892.21,519.20C887.93,516.90,883.65,509.30,879.37,508.90C875.10,508.50,870.82,508.70,866.54,508.30C862.26,507.90,857.98,503.30,853.71,498.00C849.43,492.70,845.15,481.35,840.87,476.50C836.59,471.65,832.32,471.03,828.04,468.90C823.76,466.77,819.48,463.70,815.20,463.70C810.93,463.70,806.65,470.60,802.37,470.60C798.09,470.60,793.81,467.22,789.54,464.00C785.26,460.78,780.98,451.30,776.70,451.30C772.42,451.30,768.15,452.38,763.87,453.10C759.59,453.82,755.31,455.60,751.03,455.60C746.76,455.60,742.48,454.37,738.20,451.90C733.92,449.43,729.64,440.60,725.37,440.60C721.09,440.60,716.81,446.50,712.53,448.80C708.25,451.10,703.98,454.40,699.70,454.40C695.42,454.40,691.14,453.77,686.86,452.50C682.59,451.23,678.31,447.18,674.03,445.00C669.75,442.82,665.47,439.40,661.20,439.40C656.92,439.40,652.64,442.72,648.36,445.00C644.08,447.28,639.81,448.52,635.53,453.10C631.25,457.68,626.97,466.13,622.69,472.50C618.42,478.87,614.14,484.22,609.86,491.30C605.58,498.38,601.30,509.17,597.03,515.00C592.75,520.83,588.47,524.63,584.19,526.30C579.91,527.97,575.64,528.08,571.36,528.80C567.08,529.52,562.80,530.60,558.52,530.60C554.25,530.60,549.97,525.60,545.69,525.60C541.41,525.60,537.13,535.00,532.86,535.00C528.58,535.00,524.30,530.00,520.02,530.00C515.74,530.00,511.47,540.05,507.19,543.80C502.91,547.55,498.63,552.10,494.35,552.50C490.08,552.90,485.80,553.10,481.52,553.10C477.24,553.10,472.96,540.38,468.69,535.60C464.41,530.82,460.13,529.18,455.85,524.40C451.57,519.62,447.30,512.63,443.02,506.90C438.74,501.17,434.46,495.48,430.18,490.00C425.91,484.52,421.63,477.83,417.35,474.00C413.07,470.17,408.79,467.00,404.52,467.00C400.24,467.00,395.96,470.10,391.68,470.10C387.40,470.10,383.13,468.95,378.85,467.60C374.57,466.25,370.29,463.88,366.01,462.00C361.74,460.12,357.46,457.88,353.18,456.30C348.90,454.72,344.62,452.50,340.35,452.50C336.07,452.50,331.79,452.50,327.51,452.50C323.23,452.50,318.96,449.58,314.68,448.00C310.40,446.42,306.12,444.62,301.84,443.00C297.57,441.38,293.29,438.30,289.01,438.30C284.73,438.30,280.45,448.28,276.18,451.90C271.90,455.52,267.62,457.50,263.34,460.00C259.06,462.50,254.79,466.10,250.51,466.90C246.23,467.70,241.95,467.30,237.67,468.10C233.40,468.90,229.12,477.37,224.84,480.60C220.56,483.83,216.28,487.50,212.01,487.50C207.73,487.50,203.45,476.55,199.17,469.00C194.89,461.45,190.62,450.57,186.34,442.20C182.06,433.83,177.78,425.83,173.50,418.80C169.23,411.77,164.95,404.70,160.67,400.00C156.39,395.30,152.11,393.88,147.84,390.60C143.56,387.32,139.28,383.77,135.00,380.30C130.72,376.83,126.45,372.63,122.17,369.80C117.89,366.97,113.61,364.98,109.33,363.30C105.06,361.62,100.78,360.95,96.50,359.70C92.22,358.45,87.94,357.15,83.67,355.80C79.39,354.45,75.11,352.82,70.83,351.60C66.55,350.38,62.28,349.27,58.00,348.50C53.72,347.73,49.44,347.33,45.16,347.00C40.89,346.67,36.61,346.58,32.33,346.50Z" fill="#e6af3c"/>
<path d="M32.33,346.50C36.61,346.58,40.89,346.67,45.16,347.00C49.44,347.33,53.72,347.74,58.00,348.50C62.28,349.26,66.55,350.33,70.83,351.55C75.11,352.77,79.39,354.49,83.67,355.80C87.94,357.11,92.22,358.15,96.50,359.40C100.78,360.65,105.06,361.57,109.33,363.30C113.61,365.03,117.89,366.97,122.17,369.80C126.45,372.63,130.72,376.87,135.00,380.30C139.28,383.73,143.56,387.13,147.84,390.40C152.11,393.67,156.39,395.22,160.67,399.90C164.95,404.58,169.23,411.50,173.50,418.50C177.78,425.50,182.06,433.73,186.34,441.90C190.62,450.07,194.89,460.70,199.17,467.50C203.45,474.30,207.73,482.70,212.01,482.70C216.28,482.70,220.56,479.68,224.84,476.20C229.12,472.72,233.40,463.00,237.67,461.80C241.95,460.60,246.23,461.20,250.51,460.00C254.79,458.80,259.06,456.08,263.34,454.30C267.62,452.52,271.90,452.23,276.18,449.30C280.45,446.37,284.73,436.70,289.01,436.70C293.29,436.70,297.57,440.03,301.84,441.70C306.12,443.37,310.40,445.13,314.68,446.70C318.96,448.27,323.23,451.10,327.51,451.10C331.79,451.10,336.07,451.10,340.35,451.10C344.62,451.10,348.90,453.63,353.18,455.30C357.46,456.97,361.74,459.20,366.01,461.10C370.29,463.00,374.57,465.35,378.85,466.70C383.13,468.05,387.40,469.20,391.68,469.20C395.96,469.20,400.24,466.10,404.52,466.10C408.79,466.10,413.07,469.35,417.35,473.00C421.63,476.65,425.91,482.67,430.18,488.00C434.46,493.33,438.74,499.50,443.02,505.00C447.30,510.50,451.57,516.70,455.85,521.00C460.13,525.30,464.41,527.05,468.69,530.80C472.96,534.55,477.24,543.50,481.52,543.50C485.80,543.50,490.08,539.13,494.35,534.60C498.63,530.07,502.91,520.47,507.19,516.30C511.47,512.13,515.74,510.73,520.02,509.60C524.30,508.47,528.58,508.78,532.86,507.90C537.13,507.02,541.41,504.30,545.69,504.30C549.97,504.30,554.25,504.90,558.52,505.10C562.80,505.30,567.08,505.50,571.36,505.50C575.64,505.50,579.91,505.20,584.19,504.60C588.47,504.00,592.75,499.04,597.03,493.70C601.30,488.36,605.58,479.88,609.86,472.55C614.14,465.22,618.42,455.33,622.69,449.75C626.97,444.17,631.25,442.18,635.53,439.05C639.81,435.92,644.08,433.07,648.36,430.95C652.64,428.83,656.92,427.80,661.20,426.35C665.47,424.90,669.75,422.25,674.03,422.25C678.31,422.25,682.59,424.05,686.86,424.05C691.14,424.05,695.42,422.87,699.70,422.25C703.98,421.63,708.25,421.62,712.53,420.35C716.81,419.08,721.09,405.75,725.37,405.75C729.64,405.75,733.92,406.48,738.20,407.25C742.48,408.02,746.76,409.35,751.03,410.35C755.31,411.35,759.59,413.25,763.87,413.25C768.15,413.25,772.42,406.55,776.70,406.55C780.98,406.55,785.26,410.85,789.54,412.25C793.81,413.65,798.09,413.82,802.37,414.95C806.65,416.08,810.93,419.05,815.20,419.05C819.48,419.05,823.76,417.85,828.04,417.85C832.32,417.85,836.59,420.75,840.87,426.55C845.15,432.35,849.43,444.93,853.71,452.85C857.98,460.77,862.26,473.92,866.54,474.05C870.82,474.18,875.10,474.12,879.37,474.25C883.65,474.38,887.93,477.40,892.21,479.25C896.49,481.10,900.76,485.35,905.04,485.35C909.32,485.35,913.60,484.25,917.88,484.25C922.15,484.25,926.43,490.15,930.71,492.35C934.99,494.55,939.27,497.45,943.54,497.45C947.82,497.45,952.10,495.38,956.38,491.25C960.66,487.12,964.93,469.15,969.21,469.15C973.49,469.15,977.77,470.25,982.05,470.25C986.32,470.25,990.60,461.60,994.88,452.95L994.88,488.10C990.60,498.30,986.32,508.50,982.05,508.50C977.77,508.50,973.49,507.40,969.21,507.40C964.93,507.40,960.66,519.75,956.38,524.20C952.10,528.65,947.82,534.10,943.54,534.10C939.27,534.10,934.99,529.87,930.71,526.40C926.43,522.93,922.15,513.30,917.88,513.30C913.60,513.30,909.32,522.70,905.04,522.70C900.76,522.70,896.49,521.50,892.21,519.20C887.93,516.90,883.65,509.30,879.37,508.90C875.10,508.50,870.82,508.70,866.54,508.30C862.26,507.90,857.98,503.30,853.71,498.00C849.43,492.70,845.15,481.35,840.87,476.50C836.59,471.65,832.32,471.03,828.04,468.90C823.76,466.77,819.48,463.70,815.20,463.70C810.93,463.70,806.65,470.60,802.37,470.60C798.09,470.60,793.81,467.22,789.54,464.00C785.26,460.78,780.98,451.30,776.70,451.30C772.42,451.30,768.15,452.38,763.87,453.10C759.59,453.82,755.31,455.60,751.03,455.60C746.76,455.60,742.48,454.37,738.20,451.90C733.92,449.43,729.64,440.60,725.37,440.60C721.09,440.60,716.81,446.50,712.53,448.80C708.25,451.10,703.98,454.40,699.70,454.40C695.42,454.40,691.14,453.77,686.86,452.50C682.59,451.23,678.31,447.18,674.03,445.00C669.75,442.82,665.47,439.40,661.20,439.40C656.92,439.40,652.64,442.72,648.36,445.00C644.08,447.28,639.81,448.52,635.53,453.10C631.25,457.68,626.97,466.13,622.69,472.50C618.42,478.87,614.14,484.22,609.86,491.30C605.58,498.38,601.30,509.17,597.03,515.00C592.75,520.83,588.47,524.63,584.19,526.30C579.91,527.97,575.64,528.08,571.36,528.80C567.08,529.52,562.80,530.60,558.52,530.60C554.25,530.60,549.97,525.60,545.69,525.60C541.41,525.60,537.13,535.00,532.86,535.00C528.58,535.00,524.30,530.00,520.02,530.00C515.74,530.00,511.47,540.05,507.19,543.80C502.91,547.55,498.63,552.10,494.35,552.50C490.08,552.90,485.80,553.10,481.52,553.10C477.24,553.10,472.96,540.38,468.69,535.60C464.41,530.82,460.13,529.18,455.85,524.40C451.57,519.62,447.30,512.63,443.02,506.90C438.74,501.17,434.46,495.48,430.18,490.00C425.91,484.52,421.63,477.83,417.35,474.00C413.07,470.17,408.79,467.00,404.52,467.00C400.24,467.00,395.96,470.10,391.68,470.10C387.40,470.10,383.13,468.95,378.85,467.60C374.57,466.25,370.29,463.88,366.01,462.00C361.74,460.12,357.46,457.88,353.18,456.30C348.90,454.72,344.62,452.50,340.35,452.50C336.07,452.50,331.79,452.50,327.51,452.50C323.23,452.50,318.96,449.58,314.68,448.00C310.40,446.42,306.12,444.62,301.84,443.00C297.57,441.38,293.29,438.30,289.01,438.30C284.73,438.30,280.45,448.28,276.18,451.90C271.90,455.52,267.62,457.50,263.34,460.00C259.06,462.50,254.79,466.10,250.51,466.90C246.23,467.70,241.95,467.30,237.67,468.10C233.40,468.90,229.12,477.37,224.84,480.60C220.56,483.83,216.28,487.50,212.01,487.50C207.73,487.50,203.45,476.55,199.17,469.00C194.89,461.45,190.62,450.57,186.34,442.20C182.06,433.83,177.78,425.83,173.50,418.80C169.23,411.77,164.95,404.70,160.67,400.00C156.39,395.30,152.11,393.88,147.84,390.60C143.56,387.32,139.28,383.77,135.00,380.30C130.72,376.83,126.45,372.63,122.17,369.80C117.89,366.97,113.61,364.98,109.33,363.30C105.06,361.62,100.78,360.95,96.50,359.70C92.22,358.45,87.94,357.15,83.67,355.80C79.39,354.45,75.11,352.82,70.83,351.60C66.55,350.38,62.28,349.27,58.00,348.50C53.72,347.73,49.44,347.33,45.16,347.00C40.89,346.67,36.61,346.58,32.33,346.50Z" fill="#48759c"/>
<path d="M32.33,344.95C36.61,344.85,40.89,344.75,45.16,344.75C49.44,344.75,53.72,344.82,58.00,344.95C62.28,345.08,66.55,345.62,70.83,345.75C75.11,345.88,79.39,345.95,83.67,345.95C87.94,345.95,92.22,345.58,96.50,345.15C100.78,344.72,105.06,344.55,109.33,343.35C113.61,342.15,117.89,339.68,122.17,336.65C126.45,333.62,130.72,329.00,135.00,325.15C139.28,321.30,143.56,317.30,147.84,313.55C152.11,309.80,156.39,308.00,160.67,302.65C164.95,297.30,169.23,289.05,173.50,281.45C177.78,273.85,182.06,265.27,186.34,257.05C190.62,248.83,194.89,239.33,199.17,232.15C203.45,224.97,207.73,214.42,212.01,213.95C216.28,213.48,220.56,213.25,224.84,213.25C229.12,213.25,233.40,220.95,237.67,223.25C241.95,225.55,246.23,225.17,250.51,227.05C254.79,228.93,259.06,231.73,263.34,234.55C267.62,237.37,271.90,240.48,276.18,243.95C280.45,247.42,284.73,255.35,289.01,255.35C293.29,255.35,297.57,252.35,301.84,250.75C306.12,249.15,310.40,247.30,314.68,245.75C318.96,244.20,323.23,241.45,327.51,241.45C331.79,241.45,336.07,241.45,340.35,241.45C344.62,241.45,348.90,238.30,353.18,237.05C357.46,235.80,361.74,235.42,366.01,233.95C370.29,232.48,374.57,229.62,378.85,228.25C383.13,226.88,387.40,225.75,391.68,225.75C395.96,225.75,400.24,227.45,404.52,227.45C408.79,227.45,413.07,224.15,417.35,220.75C421.63,217.35,425.91,211.93,430.18,207.05C434.46,202.17,438.74,197.08,443.02,191.45C447.30,185.82,451.57,178.05,455.85,173.25C460.13,168.45,464.41,167.33,468.69,162.65C472.96,157.97,477.24,145.15,481.52,145.15C485.80,145.15,490.08,145.35,494.35,145.75C498.63,146.15,502.91,151.68,507.19,155.75C511.47,159.82,515.74,170.15,520.02,170.15C524.30,170.15,528.58,164.55,532.86,164.55C537.13,164.55,541.41,174.55,545.69,174.55C549.97,174.55,554.25,168.75,558.52,168.75C562.80,168.75,567.08,169.82,571.36,169.95C575.64,170.08,579.91,170.02,584.19,170.15C588.47,170.28,592.75,175.37,597.03,180.75C601.30,186.13,605.58,194.92,609.86,202.45C614.14,209.98,618.42,217.97,622.69,225.95" fill="none" stroke="#4a93b2" stroke-width="1.5" stroke-linejoin="round"/>
<path d="M635.53,262.00C639.81,264.97,644.08,267.93,648.36,268.80C652.64,269.67,656.92,270.10,661.20,270.10C665.47,270.10,669.75,267.33,674.03,264.50C678.31,261.67,682.59,253.10,686.86,253.10C691.14,253.10,695.42,253.10,699.70,253.10C703.98,253.10,708.25,259.47,712.53,262.20C716.81,264.93,721.09,269.50,725.37,269.50C729.64,269.50,733.92,259.82,738.20,257.00C742.48,254.18,746.76,252.60,751.03,252.60C755.31,252.60,759.59,256.30,763.87,256.30C768.15,256.30,772.42,256.10,776.70,255.70C780.98,255.30,785.26,247.67,789.54,245.10C793.81,242.53,798.09,240.30,802.37,240.30C806.65,240.30,810.93,247.60,815.20,247.60C819.48,247.60,823.76,244.28,828.04,242.20C832.32,240.12,836.59,239.20,840.87,235.10C845.15,231.00,849.43,219.67,853.71,217.60C857.98,215.53,862.26,214.97,866.54,214.50C870.82,214.03,875.10,214.27,879.37,213.80C883.65,213.33,887.93,206.65,892.21,204.50C896.49,202.35,900.76,200.90,905.04,200.90C909.32,200.90,913.60,207.80,917.88,207.80C922.15,207.80,926.43,196.47,930.71,193.20C934.99,189.93,939.27,188.20,943.54,188.20C947.82,188.20,952.10,193.40,956.38,198.20C960.66,203.00,964.93,217.00,969.21,217.00C973.49,217.00,977.77,215.20,982.05,215.20C986.32,215.20,990.60,225.45,994.88,235.70" fill="none" stroke="#b76b87" stroke-width="1.3" stroke-linejoin="round"/>
<path d="M32.33,346.30C36.61,346.34,40.89,346.38,45.16,346.45C49.44,346.53,53.72,346.61,58.00,346.75C62.28,346.89,66.55,347.17,70.83,347.30C75.11,347.43,79.39,347.41,83.67,347.55C87.94,347.69,92.22,347.90,96.50,348.15C100.78,348.40,105.06,349.05,109.33,349.05C113.61,349.05,117.89,347.33,122.17,345.75C126.45,344.17,130.72,341.58,135.00,339.55C139.28,337.52,143.56,335.18,147.84,333.55C152.11,331.92,156.39,330.83,160.67,329.75C164.95,328.67,169.23,328.85,173.50,327.05C177.78,325.25,182.06,322.08,186.34,318.95C190.62,315.82,194.89,308.25,199.17,308.25C203.45,308.25,207.73,308.68,212.01,309.55C216.28,310.42,220.56,314.23,224.84,317.05C229.12,319.87,233.40,324.38,237.67,326.45C241.95,328.52,246.23,329.55,250.51,329.55C254.79,329.55,259.06,324.82,263.34,323.95C267.62,323.08,271.90,322.65,276.18,322.65C280.45,322.65,284.73,327.88,289.01,329.55C293.29,331.22,297.57,331.72,301.84,332.65C306.12,333.58,310.40,333.90,314.68,335.15C318.96,336.40,323.23,339.00,327.51,340.15C331.79,341.30,336.07,340.95,340.35,342.05C344.62,343.15,348.90,346.75,353.18,346.75C357.46,346.75,361.74,344.55,366.01,344.55C370.29,344.55,374.57,345.55,378.85,346.45C383.13,347.35,387.40,349.82,391.68,349.95C395.96,350.08,400.24,350.02,404.52,350.15C408.79,350.28,413.07,352.65,417.35,352.65C421.63,352.65,425.91,352.03,430.18,351.45C434.46,350.87,438.74,349.15,443.02,349.15C447.30,349.15,451.57,351.45,455.85,351.45C460.13,351.45,464.41,345.13,468.69,343.25C472.96,341.37,477.24,342.22,481.52,340.15C485.80,338.08,490.08,333.53,494.35,328.95C498.63,324.37,502.91,312.65,507.19,312.65C511.47,312.65,515.74,313.25,520.02,313.25C524.30,313.25,528.58,292.05,532.86,292.05C537.13,292.05,541.41,295.75,545.69,295.75C549.97,295.75,554.25,295.15,558.52,295.15C562.80,295.15,567.08,295.15,571.36,295.15C575.64,295.15,579.91,295.58,584.19,296.45C588.47,297.32,592.75,301.42,597.03,303.95C601.30,306.48,605.58,309.57,609.86,311.65C614.14,313.73,618.42,315.09,622.69,316.45" fill="none" stroke="#6b85cd" stroke-width="1.3" stroke-linejoin="round"/>
<path d="M122.17,347.20C126.45,347.18,130.72,347.15,135.00,347.05C139.28,346.95,143.56,343.75,147.84,343.75C152.11,343.75,156.39,344.50,160.67,345.25C164.95,346.00,169.23,348.25,173.50,348.25C177.78,348.25,182.06,346.32,186.34,344.55C190.62,342.78,194.89,337.65,199.17,337.65C203.45,337.65,207.73,338.58,212.01,340.15C216.28,341.72,220.56,345.13,224.84,347.05C229.12,348.97,233.40,350.78,237.67,351.65C241.95,352.52,246.23,352.95,250.51,352.95C254.79,352.95,259.06,346.52,263.34,345.45C267.62,344.38,271.90,344.05,276.18,343.85C280.45,343.65,284.73,343.55,289.01,343.55C293.29,343.55,297.57,347.97,301.84,349.85C306.12,351.73,310.40,353.30,314.68,354.85C318.96,356.40,323.23,358.12,327.51,359.15C331.79,360.18,336.07,359.97,340.35,361.05C344.62,362.13,348.90,365.65,353.18,365.65C357.46,365.65,361.74,364.20,366.01,364.20C370.29,364.20,374.57,365.53,378.85,366.00C383.13,366.47,387.40,366.87,391.68,367.00C395.96,367.13,400.24,367.07,404.52,367.20C408.79,367.33,413.07,367.93,417.35,368.20C421.63,368.47,425.91,368.48,430.18,368.80C434.46,369.12,438.74,369.23,443.02,370.10C447.30,370.97,451.57,375.70,455.85,375.70C460.13,375.70,464.41,372.30,468.69,372.30C472.96,372.30,477.24,377.70,481.52,377.70C485.80,377.70,490.08,373.12,494.35,368.20C498.63,363.28,502.91,348.20,507.19,348.20C511.47,348.20,515.74,350.10,520.02,350.10C524.30,350.10,528.58,328.27,532.86,327.00C537.13,325.73,541.41,325.68,545.69,325.10C549.97,324.52,554.25,324.40,558.52,323.50C562.80,322.60,567.08,319.70,571.36,319.70C575.64,319.70,579.91,319.83,584.19,320.10C588.47,320.37,592.75,321.45,597.03,322.60C601.30,323.75,605.58,326.93,609.86,327.00C614.14,327.07,618.42,327.08,622.69,327.10" fill="none" stroke="#50968c" stroke-width="1.4" stroke-linejoin="round"/>
<path d="M122.17,350.30C126.45,351.63,130.72,352.95,135.00,352.95C139.28,352.95,143.56,352.95,147.84,352.95C152.11,352.95,156.39,353.95,160.67,355.25C164.95,356.55,169.23,360.75,173.50,360.75C177.78,360.75,182.06,360.12,186.34,358.85C190.62,357.58,194.89,350.15,199.17,350.15C203.45,350.15,207.73,350.35,212.01,350.75C216.28,351.15,220.56,354.55,224.84,357.95" fill="none" stroke="#9a649d" stroke-width="1.0" stroke-linejoin="round"/>
<path d="M366.01,367.25C370.29,368.53,374.57,369.82,378.85,370.75C383.13,371.68,387.40,372.15,391.68,372.85C395.96,373.55,400.24,373.97,404.52,374.95C408.79,375.93,413.07,377.34,417.35,378.70C421.63,380.06,425.91,380.17,430.18,383.10C434.46,386.03,438.74,392.23,443.02,396.50C447.30,400.77,451.57,404.90,455.85,408.70C460.13,412.50,464.41,416.28,468.69,419.30C472.96,422.32,477.24,426.80,481.52,426.80C485.80,426.80,490.08,419.88,494.35,415.00C498.63,410.12,502.91,399.17,507.19,397.50C511.47,395.83,515.74,396.67,520.02,395.00C524.30,393.33,528.58,374.67,532.86,371.80C537.13,368.93,541.41,368.58,545.69,367.50C549.97,366.42,554.25,366.45,558.52,365.30C562.80,364.15,567.08,360.60,571.36,360.60C575.64,360.60,579.91,360.80,584.19,360.80C588.47,360.80,592.75,360.30,597.03,360.30C601.30,360.30,605.58,364.00,609.86,364.00C614.14,364.00,618.42,361.50,622.69,359.60C626.97,357.70,631.25,352.60,635.53,352.60C639.81,352.60,644.08,353.20,648.36,353.20C652.64,353.20,656.92,353.00,661.20,352.60C665.47,352.20,669.75,346.80,674.03,344.50C678.31,342.20,682.59,339.20,686.86,338.80C691.14,338.40,695.42,338.20,699.70,338.20C703.98,338.20,708.25,341.97,712.53,343.80C716.81,345.63,721.09,349.20,725.37,349.20C729.64,349.20,733.92,342.70,738.20,339.60C742.48,336.50,746.76,330.60,751.03,330.60C755.31,330.60,759.59,337.03,763.87,338.30C768.15,339.57,772.42,340.20,776.70,340.20C780.98,340.20,785.26,339.70,789.54,339.70C793.81,339.70,798.09,340.37,802.37,341.70C806.65,343.03,810.93,356.10,815.20,357.10C819.48,358.10,823.76,357.60,828.04,358.60C832.32,359.60,836.59,365.72,840.87,370.90C845.15,376.08,849.43,382.70,853.71,389.70C857.98,396.70,862.26,409.90,866.54,412.90C870.82,415.90,875.10,415.75,879.37,417.40C883.65,419.05,887.93,421.07,892.21,422.80C896.49,424.53,900.76,427.53,905.04,427.80C909.32,428.07,913.60,428.20,917.88,428.20C922.15,428.20,926.43,411.50,930.71,411.50C934.99,411.50,939.27,411.92,943.54,412.20C947.82,412.48,952.10,412.53,956.38,413.20C960.66,413.87,964.93,425.30,969.21,426.50C973.49,427.70,977.77,428.23,982.05,428.30C986.32,428.37,990.60,428.38,994.88,428.40" fill="none" stroke="#419469" stroke-width="1.4" stroke-linejoin="round"/>
<path d="M32.33,346.50C36.61,346.59,40.89,346.67,45.16,347.00C49.44,347.33,53.72,347.82,58.00,348.45C62.28,349.08,66.55,349.69,70.83,350.80C75.11,351.91,79.39,353.82,83.67,355.12C87.94,356.43,92.22,357.40,96.50,358.65C100.78,359.90,105.06,360.91,109.33,362.65C113.61,364.39,117.89,366.28,122.17,369.10C126.45,371.93,130.72,376.18,135.00,379.60C139.28,383.03,143.56,386.39,147.84,389.65C152.11,392.91,156.39,394.47,160.67,399.15C164.95,403.83,169.23,410.75,173.50,417.75C177.78,424.75,182.06,432.98,186.34,441.15C190.62,449.32,194.89,459.95,199.17,466.75C203.45,473.55,207.73,481.95,212.01,481.95C216.28,481.95,220.56,478.93,224.84,475.45C229.12,471.97,233.40,462.25,237.67,461.05C241.95,459.85,246.23,460.45,250.51,459.25C254.79,458.05,259.06,455.33,263.34,453.55C267.62,451.77,271.90,451.48,276.18,448.55C280.45,445.62,284.73,435.95,289.01,435.95C293.29,435.95,297.57,439.28,301.84,440.95C306.12,442.62,310.40,444.38,314.68,445.95C318.96,447.52,323.23,450.35,327.51,450.35C331.79,450.35,336.07,450.35,340.35,450.35C344.62,450.35,348.90,452.88,353.18,454.55C357.46,456.22,361.74,458.45,366.01,460.35C370.29,462.25,374.57,464.60,378.85,465.95C383.13,467.30,387.40,468.45,391.68,468.45C395.96,468.45,400.24,465.35,404.52,465.35C408.79,465.35,413.07,468.60,417.35,472.25C421.63,475.90,425.91,481.92,430.18,487.25C434.46,492.58,438.74,498.75,443.02,504.25C447.30,509.75,451.57,515.98,455.85,520.25C460.13,524.52,464.41,526.22,468.69,529.90C472.96,533.58,477.24,542.35,481.52,542.35C485.80,542.35,490.08,537.98,494.35,533.45C498.63,528.92,502.91,519.32,507.19,515.15C511.47,510.98,515.74,509.58,520.02,508.45C524.30,507.32,528.58,507.63,532.86,506.75C537.13,505.87,541.41,503.15,545.69,503.15C549.97,503.15,554.25,503.75,558.52,503.95C562.80,504.15,567.08,504.35,571.36,504.35C575.64,504.35,579.91,504.05,584.19,503.45C588.47,502.85,592.75,498.11,597.03,492.85C601.30,487.59,605.58,479.17,609.86,471.88C614.14,464.58,618.42,454.66,622.69,449.07C626.97,443.49,631.25,441.51,635.53,438.38C639.81,435.24,644.08,432.39,648.36,430.28C652.64,428.16,656.92,427.12,661.20,425.68C665.47,424.23,669.75,421.57,674.03,421.57C678.31,421.57,682.59,423.38,686.86,423.38C691.14,423.38,695.42,422.19,699.70,421.57C703.98,420.96,708.25,420.94,712.53,419.68C716.81,418.41,721.09,405.07,725.37,405.07C729.64,405.07,733.92,405.81,738.20,406.57C742.48,407.34,746.76,408.68,751.03,409.68C755.31,410.68,759.59,412.57,763.87,412.57C768.15,412.57,772.42,405.88,776.70,405.88C780.98,405.88,785.26,410.17,789.54,411.57C793.81,412.97,798.09,413.14,802.37,414.28C806.65,415.41,810.93,418.38,815.20,418.38C819.48,418.38,823.76,417.18,828.04,417.18C832.32,417.18,836.59,420.07,840.87,425.88C845.15,431.67,849.43,444.26,853.71,452.18C857.98,460.09,862.26,473.24,866.54,473.38C870.82,473.51,875.10,473.44,879.37,473.57C883.65,473.71,887.93,476.73,892.21,478.57C896.49,480.43,900.76,484.68,905.04,484.68C909.32,484.68,913.60,483.57,917.88,483.57C922.15,483.57,926.43,489.48,930.71,491.68C934.99,493.88,939.27,496.78,943.54,496.78C947.82,496.78,952.10,494.71,956.38,490.57C960.66,486.44,964.93,468.48,969.21,468.48C973.49,468.48,977.77,469.57,982.05,469.57C986.32,469.57,990.60,460.93,994.88,452.28" fill="none" stroke="#e6af3c" stroke-width="1.3" stroke-linejoin="round"/>
</g>
<g stroke="#bdbdbd" stroke-width="1" fill="none">
<path d="M32,555H995.38"/>
<path d="M96.50,555V561.6"/>
<path d="M224.84,555V561.6"/>
<path d="M353.18,555V561.6"/>
<path d="M481.52,555V561.6"/>
<path d="M609.86,555V561.6"/>
<path d="M738.20,555V561.6"/>
<path d="M866.54,555V561.6"/>
<path d="M994.88,555V561.6"/>
</g>
<g>
<text y="573.80" font-size="11.8" font-weight="normal" fill="#9c9c9c"><tspan x="83.31" textLength="25.88" lengthAdjust="spacingAndGlyphs">1950</tspan></text>
<text y="573.80" font-size="11.8" font-weight="normal" fill="#9c9c9c"><tspan x="211.65" textLength="25.88" lengthAdjust="spacingAndGlyphs">1960</tspan></text>
<text y="573.80" font-size="11.8" font-weight="normal" fill="#9c9c9c"><tspan x="339.99" textLength="25.88" lengthAdjust="spacingAndGlyphs">1970</tspan></text>
<text y="573.80" font-size="11.8" font-weight="normal" fill="#9c9c9c"><tspan x="468.33" textLength="25.88" lengthAdjust="spacingAndGlyphs">1980</tspan></text>
<text y="573.80" font-size="11.8" font-weight="normal" fill="#9c9c9c"><tspan x="596.67" textLength="25.88" lengthAdjust="spacingAndGlyphs">1990</tspan></text>
<text y="573.80" font-size="11.8" font-weight="normal" fill="#9c9c9c"><tspan x="725.52" textLength="25.37" lengthAdjust="spacingAndGlyphs">2000</tspan></text>
<text y="573.80" font-size="11.8" font-weight="normal" fill="#9c9c9c"><tspan x="853.86" textLength="25.37" lengthAdjust="spacingAndGlyphs">2010</tspan></text>
<text y="573.80" font-size="11.8" font-weight="normal" fill="#9c9c9c"><tspan x="982.20" textLength="25.37" lengthAdjust="spacingAndGlyphs">2020</tspan></text>
</g>
<g stroke="#111" stroke-width="1.1" stroke-dasharray="2,2" fill="none">
<path d="M173.50,135V555"/>
<path d="M430.18,135V555"/>
<path d="M558.52,135V555"/>
<path d="M635.53,135V555"/>
<path d="M853.71,135V555"/>
</g>
<g>
<text y="149.70" font-size="11.5" font-weight="bold" fill="#111" stroke="#111" stroke-width="0.3"><tspan x="142.26" textLength="24.66" lengthAdjust="spacingAndGlyphs">First</tspan></text>
<text y="164.70" font-size="11.5" font-weight="bold" fill="#111" stroke="#111" stroke-width="0.3"><tspan x="101.99" textLength="65.47" lengthAdjust="spacingAndGlyphs">commercial</tspan></text>
<text y="179.70" font-size="11.5" font-weight="bold" fill="#111" stroke="#111" stroke-width="0.3"><tspan x="124.98" textLength="41.94" lengthAdjust="spacingAndGlyphs">nuclear</tspan></text>
<text y="194.70" font-size="11.5" font-weight="bold" fill="#111" stroke="#111" stroke-width="0.3"><tspan x="131.72" textLength="35.16" lengthAdjust="spacingAndGlyphs">power</tspan></text>
<text y="209.70" font-size="11.5" font-weight="bold" fill="#111" stroke="#111" stroke-width="0.3"><tspan x="101.24" textLength="66.19" lengthAdjust="spacingAndGlyphs">station (UK)</tspan></text>
<text y="224.70" font-size="11.5" font-weight="bold" fill="#111" stroke="#111" stroke-width="0.3"><tspan x="140.73" textLength="26.38" lengthAdjust="spacingAndGlyphs">1956</tspan></text>
<text y="149.70" font-size="11.5" font-weight="bold" fill="#111" stroke="#111" stroke-width="0.3"><tspan x="357.75" textLength="66.10" lengthAdjust="spacingAndGlyphs">Peak in new</tspan></text>
<text y="164.70" font-size="11.5" font-weight="bold" fill="#111" stroke="#111" stroke-width="0.3"><tspan x="383.73" textLength="40.28" lengthAdjust="spacingAndGlyphs">reactor</tspan></text>
<text y="179.70" font-size="11.5" font-weight="bold" fill="#111" stroke="#111" stroke-width="0.3"><tspan x="353.99" textLength="70.40" lengthAdjust="spacingAndGlyphs">construction</tspan></text>
<text y="194.70" font-size="11.5" font-weight="bold" fill="#111" stroke="#111" stroke-width="0.3"><tspan x="363.24" textLength="60.87" lengthAdjust="spacingAndGlyphs">starts 1976</tspan></text>
<text y="149.70" font-size="11.5" font-weight="bold" fill="#111" stroke="#111" stroke-width="0.3"><tspan x="495.24" textLength="57.64" lengthAdjust="spacingAndGlyphs">Chernobyl</tspan></text>
<text y="164.70" font-size="11.5" font-weight="bold" fill="#111" stroke="#111" stroke-width="0.3"><tspan x="525.62" textLength="26.74" lengthAdjust="spacingAndGlyphs">1986</tspan></text>
<text y="149.70" font-size="11.5" font-weight="bold" fill="#111" stroke="#111" stroke-width="0.3"><tspan x="594.50" textLength="34.77" lengthAdjust="spacingAndGlyphs">Soviet</tspan></text>
<text y="164.70" font-size="11.5" font-weight="bold" fill="#111" stroke="#111" stroke-width="0.3"><tspan x="596.33" textLength="33.52" lengthAdjust="spacingAndGlyphs">Union</tspan></text>
<text y="179.70" font-size="11.5" font-weight="bold" fill="#111" stroke="#111" stroke-width="0.3"><tspan x="566.74" textLength="63.14" lengthAdjust="spacingAndGlyphs">Dissolution</tspan></text>
<text y="194.70" font-size="11.5" font-weight="bold" fill="#111" stroke="#111" stroke-width="0.3"><tspan x="602.98" textLength="26.38" lengthAdjust="spacingAndGlyphs">1991</tspan></text>
<text y="149.70" font-size="11.5" font-weight="bold" fill="#111" stroke="#111" stroke-width="0.3"><tspan x="783.50" textLength="64.18" lengthAdjust="spacingAndGlyphs">Kazakhstan</tspan></text>
<text y="164.70" font-size="11.5" font-weight="bold" fill="#111" stroke="#111" stroke-width="0.3"><tspan x="798.51" textLength="49.09" lengthAdjust="spacingAndGlyphs">becomes</tspan></text>
<text y="179.70" font-size="11.5" font-weight="bold" fill="#111" stroke="#111" stroke-width="0.3"><tspan x="806.23" textLength="41.56" lengthAdjust="spacingAndGlyphs">leading</tspan></text>
<text y="194.70" font-size="11.5" font-weight="bold" fill="#111" stroke="#111" stroke-width="0.3"><tspan x="797.25" textLength="49.84" lengthAdjust="spacingAndGlyphs">producer</tspan></text>
<text y="209.70" font-size="11.5" font-weight="bold" fill="#111" stroke="#111" stroke-width="0.3"><tspan x="820.98" textLength="26.37" lengthAdjust="spacingAndGlyphs">2009</tspan></text>
</g>
<text y="41.90" font-size="25.0" font-weight="bold" fill="#333"><tspan x="18.75" textLength="73.45" lengthAdjust="spacingAndGlyphs">World</tspan><tspan x="96.42" textLength="104.05" lengthAdjust="spacingAndGlyphs">uranium</tspan><tspan x="205.65" textLength="145.44" lengthAdjust="spacingAndGlyphs">production,</tspan><tspan x="355.91" textLength="126.72" lengthAdjust="spacingAndGlyphs">1945-2020</tspan></text>
<text y="65.00" font-size="16.7" font-weight="normal" fill="#666"><tspan x="17.52" textLength="37.51" lengthAdjust="spacingAndGlyphs">Units</tspan><tspan x="58.07" textLength="21.98" lengthAdjust="spacingAndGlyphs">are</tspan><tspan x="83.51" textLength="47.57" lengthAdjust="spacingAndGlyphs">tonnes</tspan><tspan x="134.52" textLength="63.90" lengthAdjust="spacingAndGlyphs">uranium.</tspan></text>
<rect x="18.5" y="83.5" width="190" height="27" fill="#fff" stroke="#ccc" stroke-width="1"/>
<text y="101.65" font-size="13.2" font-weight="bold" fill="#222"><tspan x="21.09" textLength="17.08" lengthAdjust="spacingAndGlyphs">All</tspan></text>
<path d="M194.2,95H203.8L199,99.8Z" fill="#333"/>
<text y="614.25" font-size="11.2" font-weight="normal" fill="#8e8e8e"><tspan x="18.12" textLength="36.89" lengthAdjust="spacingAndGlyphs">Source:</tspan><tspan x="57.27" textLength="28.03" lengthAdjust="spacingAndGlyphs">OECD</tspan><tspan x="87.42" textLength="37.79" lengthAdjust="spacingAndGlyphs">Nuclear</tspan><tspan x="127.85" textLength="33.85" lengthAdjust="spacingAndGlyphs">Energy</tspan><tspan x="165.10" textLength="35.07" lengthAdjust="spacingAndGlyphs">Agency</tspan></text>
<text y="629.25" font-size="11.2" font-weight="normal" fill="#8e8e8e"><tspan x="17.59" textLength="35.16" lengthAdjust="spacingAndGlyphs">Boston</tspan><tspan x="55.05" textLength="48.96" lengthAdjust="spacingAndGlyphs">University</tspan><tspan x="106.65" textLength="41.32" lengthAdjust="spacingAndGlyphs">Institute</tspan><tspan x="150.45" textLength="12.85" lengthAdjust="spacingAndGlyphs">for</tspan><tspan x="166.30" textLength="32.55" lengthAdjust="spacingAndGlyphs">Global</tspan><tspan x="201.29" textLength="67.18" lengthAdjust="spacingAndGlyphs">Sustainability</tspan><tspan x="271.10" textLength="2.91" lengthAdjust="spacingAndGlyphs">|</tspan><tspan x="276.30" textLength="104.47" lengthAdjust="spacingAndGlyphs">visualizingenergy.org</tspan><tspan x="382.80" textLength="2.91" lengthAdjust="spacingAndGlyphs">|</tspan><tspan x="388.19" textLength="13.26" lengthAdjust="spacingAndGlyphs">CC</tspan><tspan x="403.26" textLength="12.61" lengthAdjust="spacingAndGlyphs">BY</tspan><tspan x="418.46" textLength="14.77" lengthAdjust="spacingAndGlyphs">4.0</tspan></text>
<text y="619.60" font-size="18.2" font-weight="normal" fill="#84a0bc"><tspan x="833.62" textLength="95.40" lengthAdjust="spacingAndGlyphs">visualizing</tspan></text>
<text y="619.60" font-size="18.2" font-weight="bold" fill="#6a8bb0"><tspan x="928.60" textLength="68.99" lengthAdjust="spacingAndGlyphs">Energy</tspan></text>
</svg>
</body></html>
